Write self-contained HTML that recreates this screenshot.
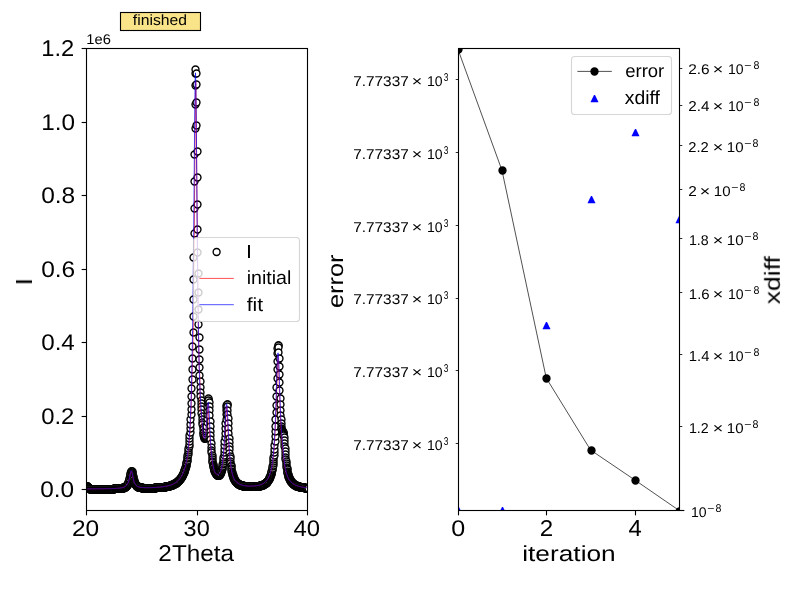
<!DOCTYPE html>
<html lang="en"><head><meta charset="utf-8"><title>fit progress</title>
<style>html,body{margin:0;padding:0;background:#fff;overflow:hidden}svg{display:block}text{font-family:"Liberation Sans",sans-serif;fill:#000;white-space:pre;text-rendering:geometricPrecision}</style></head><body>
<svg width="800" height="600" viewBox="0 0 800 600">
<rect width="800" height="600" fill="#fff"/>
<defs><clipPath id="cl"><rect x="87" y="49" width="220.5" height="461.5"/></clipPath><clipPath id="cr"><rect x="459" y="49" width="220.5" height="461.5"/></clipPath></defs>
<rect x="120.5" y="12.5" width="80" height="18" fill="#f9e48a" stroke="#000" stroke-width="1.11"/>
<g clip-path="url(#cl)">
<g fill="#fff" stroke="#000" stroke-width="1.39">
<circle cx="87.5" cy="486.5" r="3.47"/><circle cx="87.5" cy="486.5" r="3.47"/><circle cx="87.5" cy="486.5" r="3.47"/><circle cx="87.5" cy="486.5" r="3.47"/><circle cx="87.5" cy="486.5" r="3.47"/><circle cx="88.5" cy="487.5" r="3.47"/><circle cx="88.5" cy="487.5" r="3.47"/><circle cx="88.5" cy="487.5" r="3.47"/><circle cx="88.5" cy="487.5" r="3.47"/><circle cx="88.5" cy="488.5" r="3.47"/><circle cx="89.5" cy="488.5" r="3.47"/><circle cx="89.5" cy="488.5" r="3.47"/><circle cx="89.5" cy="488.5" r="3.47"/><circle cx="89.5" cy="488.5" r="3.47"/><circle cx="90.5" cy="489.5" r="3.47"/><circle cx="90.5" cy="489.5" r="3.47"/><circle cx="90.5" cy="489.5" r="3.47"/><circle cx="90.5" cy="489.5" r="3.47"/><circle cx="90.5" cy="489.5" r="3.47"/><circle cx="91.5" cy="489.5" r="3.47"/><circle cx="91.5" cy="489.5" r="3.47"/><circle cx="91.5" cy="489.5" r="3.47"/><circle cx="91.5" cy="489.5" r="3.47"/><circle cx="92.5" cy="489.5" r="3.47"/><circle cx="92.5" cy="489.5" r="3.47"/><circle cx="92.5" cy="489.5" r="3.47"/><circle cx="92.5" cy="489.5" r="3.47"/><circle cx="92.5" cy="489.5" r="3.47"/><circle cx="93.5" cy="489.5" r="3.47"/><circle cx="93.5" cy="489.5" r="3.47"/><circle cx="93.5" cy="489.5" r="3.47"/><circle cx="93.5" cy="489.5" r="3.47"/><circle cx="94.5" cy="489.5" r="3.47"/><circle cx="94.5" cy="489.5" r="3.47"/><circle cx="94.5" cy="489.5" r="3.47"/><circle cx="94.5" cy="489.5" r="3.47"/><circle cx="94.5" cy="489.5" r="3.47"/><circle cx="95.5" cy="489.5" r="3.47"/><circle cx="95.5" cy="489.5" r="3.47"/><circle cx="95.5" cy="489.5" r="3.47"/><circle cx="95.5" cy="489.5" r="3.47"/><circle cx="96.5" cy="489.5" r="3.47"/><circle cx="96.5" cy="489.5" r="3.47"/><circle cx="96.5" cy="489.5" r="3.47"/><circle cx="96.5" cy="489.5" r="3.47"/><circle cx="96.5" cy="489.5" r="3.47"/><circle cx="97.5" cy="489.5" r="3.47"/><circle cx="97.5" cy="489.5" r="3.47"/><circle cx="97.5" cy="489.5" r="3.47"/><circle cx="97.5" cy="489.5" r="3.47"/><circle cx="98.5" cy="489.5" r="3.47"/><circle cx="98.5" cy="489.5" r="3.47"/><circle cx="98.5" cy="489.5" r="3.47"/><circle cx="98.5" cy="489.5" r="3.47"/><circle cx="98.5" cy="489.5" r="3.47"/><circle cx="99.5" cy="489.5" r="3.47"/><circle cx="99.5" cy="489.5" r="3.47"/><circle cx="99.5" cy="489.5" r="3.47"/><circle cx="99.5" cy="489.5" r="3.47"/><circle cx="100.5" cy="489.5" r="3.47"/><circle cx="100.5" cy="489.5" r="3.47"/><circle cx="100.5" cy="489.5" r="3.47"/><circle cx="100.5" cy="489.5" r="3.47"/><circle cx="100.5" cy="489.5" r="3.47"/><circle cx="101.5" cy="489.5" r="3.47"/><circle cx="101.5" cy="489.5" r="3.47"/><circle cx="101.5" cy="489.5" r="3.47"/><circle cx="101.5" cy="489.5" r="3.47"/><circle cx="102.5" cy="489.5" r="3.47"/><circle cx="102.5" cy="489.5" r="3.47"/><circle cx="102.5" cy="489.5" r="3.47"/><circle cx="102.5" cy="489.5" r="3.47"/><circle cx="102.5" cy="489.5" r="3.47"/><circle cx="103.5" cy="489.5" r="3.47"/><circle cx="103.5" cy="489.5" r="3.47"/><circle cx="103.5" cy="489.5" r="3.47"/><circle cx="103.5" cy="489.5" r="3.47"/><circle cx="104.5" cy="489.5" r="3.47"/><circle cx="104.5" cy="489.5" r="3.47"/><circle cx="104.5" cy="489.5" r="3.47"/><circle cx="104.5" cy="489.5" r="3.47"/><circle cx="104.5" cy="489.5" r="3.47"/><circle cx="105.5" cy="489.5" r="3.47"/><circle cx="105.5" cy="489.5" r="3.47"/><circle cx="105.5" cy="489.5" r="3.47"/><circle cx="105.5" cy="489.5" r="3.47"/><circle cx="106.5" cy="489.5" r="3.47"/><circle cx="106.5" cy="489.5" r="3.47"/><circle cx="106.5" cy="489.5" r="3.47"/><circle cx="106.5" cy="489.5" r="3.47"/><circle cx="106.5" cy="489.5" r="3.47"/><circle cx="107.5" cy="489.5" r="3.47"/><circle cx="107.5" cy="489.5" r="3.47"/><circle cx="107.5" cy="489.5" r="3.47"/><circle cx="107.5" cy="489.5" r="3.47"/><circle cx="107.5" cy="489.5" r="3.47"/><circle cx="108.5" cy="489.5" r="3.47"/><circle cx="108.5" cy="489.5" r="3.47"/><circle cx="108.5" cy="489.5" r="3.47"/><circle cx="108.5" cy="489.5" r="3.47"/><circle cx="109.5" cy="489.5" r="3.47"/><circle cx="109.5" cy="489.5" r="3.47"/><circle cx="109.5" cy="489.5" r="3.47"/><circle cx="109.5" cy="489.5" r="3.47"/><circle cx="109.5" cy="489.5" r="3.47"/><circle cx="110.5" cy="489.5" r="3.47"/><circle cx="110.5" cy="489.5" r="3.47"/><circle cx="110.5" cy="489.5" r="3.47"/><circle cx="110.5" cy="489.5" r="3.47"/><circle cx="111.5" cy="489.5" r="3.47"/><circle cx="111.5" cy="489.5" r="3.47"/><circle cx="111.5" cy="489.5" r="3.47"/><circle cx="111.5" cy="489.5" r="3.47"/><circle cx="111.5" cy="489.5" r="3.47"/><circle cx="112.5" cy="489.5" r="3.47"/><circle cx="112.5" cy="489.5" r="3.47"/><circle cx="112.5" cy="489.5" r="3.47"/><circle cx="112.5" cy="489.5" r="3.47"/><circle cx="113.5" cy="489.5" r="3.47"/><circle cx="113.5" cy="489.5" r="3.47"/><circle cx="113.5" cy="489.5" r="3.47"/><circle cx="113.5" cy="489.5" r="3.47"/><circle cx="113.5" cy="489.5" r="3.47"/><circle cx="114.5" cy="488.5" r="3.47"/><circle cx="114.5" cy="488.5" r="3.47"/><circle cx="114.5" cy="488.5" r="3.47"/><circle cx="114.5" cy="488.5" r="3.47"/><circle cx="115.5" cy="488.5" r="3.47"/><circle cx="115.5" cy="488.5" r="3.47"/><circle cx="115.5" cy="488.5" r="3.47"/><circle cx="115.5" cy="488.5" r="3.47"/><circle cx="115.5" cy="488.5" r="3.47"/><circle cx="116.5" cy="488.5" r="3.47"/><circle cx="116.5" cy="488.5" r="3.47"/><circle cx="116.5" cy="488.5" r="3.47"/><circle cx="116.5" cy="488.5" r="3.47"/><circle cx="117.5" cy="488.5" r="3.47"/><circle cx="117.5" cy="488.5" r="3.47"/><circle cx="117.5" cy="488.5" r="3.47"/><circle cx="117.5" cy="488.5" r="3.47"/><circle cx="117.5" cy="488.5" r="3.47"/><circle cx="118.5" cy="488.5" r="3.47"/><circle cx="118.5" cy="488.5" r="3.47"/><circle cx="118.5" cy="488.5" r="3.47"/><circle cx="118.5" cy="488.5" r="3.47"/><circle cx="119.5" cy="488.5" r="3.47"/><circle cx="119.5" cy="488.5" r="3.47"/><circle cx="119.5" cy="488.5" r="3.47"/><circle cx="119.5" cy="488.5" r="3.47"/><circle cx="119.5" cy="488.5" r="3.47"/><circle cx="120.5" cy="488.5" r="3.47"/><circle cx="120.5" cy="488.5" r="3.47"/><circle cx="120.5" cy="488.5" r="3.47"/><circle cx="120.5" cy="488.5" r="3.47"/><circle cx="121.5" cy="488.5" r="3.47"/><circle cx="121.5" cy="488.5" r="3.47"/><circle cx="121.5" cy="488.5" r="3.47"/><circle cx="121.5" cy="488.5" r="3.47"/><circle cx="121.5" cy="488.5" r="3.47"/><circle cx="122.5" cy="488.5" r="3.47"/><circle cx="122.5" cy="488.5" r="3.47"/><circle cx="122.5" cy="488.5" r="3.47"/><circle cx="122.5" cy="488.5" r="3.47"/><circle cx="123.5" cy="488.5" r="3.47"/><circle cx="123.5" cy="488.5" r="3.47"/><circle cx="123.5" cy="487.5" r="3.47"/><circle cx="123.5" cy="487.5" r="3.47"/><circle cx="123.5" cy="487.5" r="3.47"/><circle cx="124.5" cy="487.5" r="3.47"/><circle cx="124.5" cy="487.5" r="3.47"/><circle cx="124.5" cy="487.5" r="3.47"/><circle cx="124.5" cy="487.5" r="3.47"/><circle cx="125.5" cy="487.5" r="3.47"/><circle cx="125.5" cy="487.5" r="3.47"/><circle cx="125.5" cy="487.5" r="3.47"/><circle cx="125.5" cy="487.5" r="3.47"/><circle cx="125.5" cy="486.5" r="3.47"/><circle cx="126.5" cy="486.5" r="3.47"/><circle cx="126.5" cy="486.5" r="3.47"/><circle cx="126.5" cy="486.5" r="3.47"/><circle cx="126.5" cy="486.5" r="3.47"/><circle cx="127.5" cy="485.5" r="3.47"/><circle cx="127.5" cy="485.5" r="3.47"/><circle cx="127.5" cy="485.5" r="3.47"/><circle cx="127.5" cy="485.5" r="3.47"/><circle cx="127.5" cy="484.5" r="3.47"/><circle cx="128.5" cy="484.5" r="3.47"/><circle cx="128.5" cy="483.5" r="3.47"/><circle cx="128.5" cy="483.5" r="3.47"/><circle cx="128.5" cy="482.5" r="3.47"/><circle cx="128.5" cy="482.5" r="3.47"/><circle cx="129.5" cy="481.5" r="3.47"/><circle cx="129.5" cy="480.5" r="3.47"/><circle cx="129.5" cy="479.5" r="3.47"/><circle cx="129.5" cy="478.5" r="3.47"/><circle cx="130.5" cy="477.5" r="3.47"/><circle cx="130.5" cy="476.5" r="3.47"/><circle cx="130.5" cy="475.5" r="3.47"/><circle cx="130.5" cy="474.5" r="3.47"/><circle cx="130.5" cy="473.5" r="3.47"/><circle cx="131.5" cy="472.5" r="3.47"/><circle cx="131.5" cy="471.5" r="3.47"/><circle cx="131.5" cy="471.5" r="3.47"/><circle cx="131.5" cy="471.5" r="3.47"/><circle cx="132.5" cy="471.5" r="3.47"/><circle cx="132.5" cy="472.5" r="3.47"/><circle cx="132.5" cy="473.5" r="3.47"/><circle cx="132.5" cy="474.5" r="3.47"/><circle cx="132.5" cy="475.5" r="3.47"/><circle cx="133.5" cy="476.5" r="3.47"/><circle cx="133.5" cy="477.5" r="3.47"/><circle cx="133.5" cy="478.5" r="3.47"/><circle cx="133.5" cy="479.5" r="3.47"/><circle cx="134.5" cy="480.5" r="3.47"/><circle cx="134.5" cy="481.5" r="3.47"/><circle cx="134.5" cy="482.5" r="3.47"/><circle cx="134.5" cy="482.5" r="3.47"/><circle cx="134.5" cy="483.5" r="3.47"/><circle cx="135.5" cy="483.5" r="3.47"/><circle cx="135.5" cy="484.5" r="3.47"/><circle cx="135.5" cy="484.5" r="3.47"/><circle cx="135.5" cy="484.5" r="3.47"/><circle cx="136.5" cy="485.5" r="3.47"/><circle cx="136.5" cy="485.5" r="3.47"/><circle cx="136.5" cy="485.5" r="3.47"/><circle cx="136.5" cy="485.5" r="3.47"/><circle cx="136.5" cy="486.5" r="3.47"/><circle cx="137.5" cy="486.5" r="3.47"/><circle cx="137.5" cy="486.5" r="3.47"/><circle cx="137.5" cy="486.5" r="3.47"/><circle cx="137.5" cy="486.5" r="3.47"/><circle cx="138.5" cy="486.5" r="3.47"/><circle cx="138.5" cy="487.5" r="3.47"/><circle cx="138.5" cy="487.5" r="3.47"/><circle cx="138.5" cy="487.5" r="3.47"/><circle cx="138.5" cy="487.5" r="3.47"/><circle cx="139.5" cy="487.5" r="3.47"/><circle cx="139.5" cy="487.5" r="3.47"/><circle cx="139.5" cy="487.5" r="3.47"/><circle cx="139.5" cy="487.5" r="3.47"/><circle cx="140.5" cy="487.5" r="3.47"/><circle cx="140.5" cy="487.5" r="3.47"/><circle cx="140.5" cy="487.5" r="3.47"/><circle cx="140.5" cy="487.5" r="3.47"/><circle cx="140.5" cy="487.5" r="3.47"/><circle cx="141.5" cy="487.5" r="3.47"/><circle cx="141.5" cy="487.5" r="3.47"/><circle cx="141.5" cy="487.5" r="3.47"/><circle cx="141.5" cy="487.5" r="3.47"/><circle cx="142.5" cy="487.5" r="3.47"/><circle cx="142.5" cy="488.5" r="3.47"/><circle cx="142.5" cy="488.5" r="3.47"/><circle cx="142.5" cy="488.5" r="3.47"/><circle cx="142.5" cy="488.5" r="3.47"/><circle cx="143.5" cy="488.5" r="3.47"/><circle cx="143.5" cy="488.5" r="3.47"/><circle cx="143.5" cy="488.5" r="3.47"/><circle cx="143.5" cy="488.5" r="3.47"/><circle cx="144.5" cy="488.5" r="3.47"/><circle cx="144.5" cy="488.5" r="3.47"/><circle cx="144.5" cy="488.5" r="3.47"/><circle cx="144.5" cy="488.5" r="3.47"/><circle cx="144.5" cy="488.5" r="3.47"/><circle cx="145.5" cy="488.5" r="3.47"/><circle cx="145.5" cy="488.5" r="3.47"/><circle cx="145.5" cy="488.5" r="3.47"/><circle cx="145.5" cy="488.5" r="3.47"/><circle cx="146.5" cy="488.5" r="3.47"/><circle cx="146.5" cy="488.5" r="3.47"/><circle cx="146.5" cy="488.5" r="3.47"/><circle cx="146.5" cy="488.5" r="3.47"/><circle cx="146.5" cy="488.5" r="3.47"/><circle cx="147.5" cy="488.5" r="3.47"/><circle cx="147.5" cy="488.5" r="3.47"/><circle cx="147.5" cy="488.5" r="3.47"/><circle cx="147.5" cy="488.5" r="3.47"/><circle cx="147.5" cy="488.5" r="3.47"/><circle cx="148.5" cy="488.5" r="3.47"/><circle cx="148.5" cy="488.5" r="3.47"/><circle cx="148.5" cy="488.5" r="3.47"/><circle cx="148.5" cy="488.5" r="3.47"/><circle cx="149.5" cy="488.5" r="3.47"/><circle cx="149.5" cy="488.5" r="3.47"/><circle cx="149.5" cy="488.5" r="3.47"/><circle cx="149.5" cy="488.5" r="3.47"/><circle cx="149.5" cy="488.5" r="3.47"/><circle cx="150.5" cy="488.5" r="3.47"/><circle cx="150.5" cy="488.5" r="3.47"/><circle cx="150.5" cy="488.5" r="3.47"/><circle cx="150.5" cy="488.5" r="3.47"/><circle cx="151.5" cy="488.5" r="3.47"/><circle cx="151.5" cy="488.5" r="3.47"/><circle cx="151.5" cy="488.5" r="3.47"/><circle cx="151.5" cy="488.5" r="3.47"/><circle cx="151.5" cy="488.5" r="3.47"/><circle cx="152.5" cy="488.5" r="3.47"/><circle cx="152.5" cy="488.5" r="3.47"/><circle cx="152.5" cy="488.5" r="3.47"/><circle cx="152.5" cy="488.5" r="3.47"/><circle cx="153.5" cy="488.5" r="3.47"/><circle cx="153.5" cy="488.5" r="3.47"/><circle cx="153.5" cy="488.5" r="3.47"/><circle cx="153.5" cy="488.5" r="3.47"/><circle cx="153.5" cy="488.5" r="3.47"/><circle cx="154.5" cy="488.5" r="3.47"/><circle cx="154.5" cy="488.5" r="3.47"/><circle cx="154.5" cy="488.5" r="3.47"/><circle cx="154.5" cy="488.5" r="3.47"/><circle cx="155.5" cy="488.5" r="3.47"/><circle cx="155.5" cy="488.5" r="3.47"/><circle cx="155.5" cy="487.5" r="3.47"/><circle cx="155.5" cy="487.5" r="3.47"/><circle cx="155.5" cy="487.5" r="3.47"/><circle cx="156.5" cy="487.5" r="3.47"/><circle cx="156.5" cy="487.5" r="3.47"/><circle cx="156.5" cy="487.5" r="3.47"/><circle cx="156.5" cy="487.5" r="3.47"/><circle cx="157.5" cy="487.5" r="3.47"/><circle cx="157.5" cy="487.5" r="3.47"/><circle cx="157.5" cy="487.5" r="3.47"/><circle cx="157.5" cy="487.5" r="3.47"/><circle cx="157.5" cy="487.5" r="3.47"/><circle cx="158.5" cy="487.5" r="3.47"/><circle cx="158.5" cy="487.5" r="3.47"/><circle cx="158.5" cy="487.5" r="3.47"/><circle cx="158.5" cy="487.5" r="3.47"/><circle cx="159.5" cy="487.5" r="3.47"/><circle cx="159.5" cy="487.5" r="3.47"/><circle cx="159.5" cy="487.5" r="3.47"/><circle cx="159.5" cy="487.5" r="3.47"/><circle cx="159.5" cy="487.5" r="3.47"/><circle cx="160.5" cy="487.5" r="3.47"/><circle cx="160.5" cy="487.5" r="3.47"/><circle cx="160.5" cy="487.5" r="3.47"/><circle cx="160.5" cy="487.5" r="3.47"/><circle cx="161.5" cy="487.5" r="3.47"/><circle cx="161.5" cy="487.5" r="3.47"/><circle cx="161.5" cy="487.5" r="3.47"/><circle cx="161.5" cy="487.5" r="3.47"/><circle cx="161.5" cy="487.5" r="3.47"/><circle cx="162.5" cy="487.5" r="3.47"/><circle cx="162.5" cy="487.5" r="3.47"/><circle cx="162.5" cy="487.5" r="3.47"/><circle cx="162.5" cy="487.5" r="3.47"/><circle cx="163.5" cy="487.5" r="3.47"/><circle cx="163.5" cy="487.5" r="3.47"/><circle cx="163.5" cy="487.5" r="3.47"/><circle cx="163.5" cy="487.5" r="3.47"/><circle cx="163.5" cy="487.5" r="3.47"/><circle cx="164.5" cy="487.5" r="3.47"/><circle cx="164.5" cy="487.5" r="3.47"/><circle cx="164.5" cy="487.5" r="3.47"/><circle cx="164.5" cy="487.5" r="3.47"/><circle cx="165.5" cy="487.5" r="3.47"/><circle cx="165.5" cy="487.5" r="3.47"/><circle cx="165.5" cy="486.5" r="3.47"/><circle cx="165.5" cy="486.5" r="3.47"/><circle cx="165.5" cy="486.5" r="3.47"/><circle cx="166.5" cy="486.5" r="3.47"/><circle cx="166.5" cy="486.5" r="3.47"/><circle cx="166.5" cy="486.5" r="3.47"/><circle cx="166.5" cy="486.5" r="3.47"/><circle cx="167.5" cy="486.5" r="3.47"/><circle cx="167.5" cy="486.5" r="3.47"/><circle cx="167.5" cy="486.5" r="3.47"/><circle cx="167.5" cy="486.5" r="3.47"/><circle cx="167.5" cy="486.5" r="3.47"/><circle cx="168.5" cy="486.5" r="3.47"/><circle cx="168.5" cy="486.5" r="3.47"/><circle cx="168.5" cy="486.5" r="3.47"/><circle cx="168.5" cy="486.5" r="3.47"/><circle cx="168.5" cy="486.5" r="3.47"/><circle cx="169.5" cy="486.5" r="3.47"/><circle cx="169.5" cy="486.5" r="3.47"/><circle cx="169.5" cy="486.5" r="3.47"/><circle cx="169.5" cy="486.5" r="3.47"/><circle cx="170.5" cy="485.5" r="3.47"/><circle cx="170.5" cy="485.5" r="3.47"/><circle cx="170.5" cy="485.5" r="3.47"/><circle cx="170.5" cy="485.5" r="3.47"/><circle cx="170.5" cy="485.5" r="3.47"/><circle cx="171.5" cy="485.5" r="3.47"/><circle cx="171.5" cy="485.5" r="3.47"/><circle cx="171.5" cy="485.5" r="3.47"/><circle cx="171.5" cy="485.5" r="3.47"/><circle cx="172.5" cy="485.5" r="3.47"/><circle cx="172.5" cy="485.5" r="3.47"/><circle cx="172.5" cy="485.5" r="3.47"/><circle cx="172.5" cy="485.5" r="3.47"/><circle cx="172.5" cy="484.5" r="3.47"/><circle cx="173.5" cy="484.5" r="3.47"/><circle cx="173.5" cy="484.5" r="3.47"/><circle cx="173.5" cy="484.5" r="3.47"/><circle cx="173.5" cy="484.5" r="3.47"/><circle cx="174.5" cy="484.5" r="3.47"/><circle cx="174.5" cy="484.5" r="3.47"/><circle cx="174.5" cy="484.5" r="3.47"/><circle cx="174.5" cy="484.5" r="3.47"/><circle cx="174.5" cy="483.5" r="3.47"/><circle cx="175.5" cy="483.5" r="3.47"/><circle cx="175.5" cy="483.5" r="3.47"/><circle cx="175.5" cy="483.5" r="3.47"/><circle cx="175.5" cy="483.5" r="3.47"/><circle cx="176.5" cy="483.5" r="3.47"/><circle cx="176.5" cy="483.5" r="3.47"/><circle cx="176.5" cy="483.5" r="3.47"/><circle cx="176.5" cy="482.5" r="3.47"/><circle cx="176.5" cy="482.5" r="3.47"/><circle cx="177.5" cy="482.5" r="3.47"/><circle cx="177.5" cy="482.5" r="3.47"/><circle cx="177.5" cy="482.5" r="3.47"/><circle cx="177.5" cy="481.5" r="3.47"/><circle cx="178.5" cy="481.5" r="3.47"/><circle cx="178.5" cy="481.5" r="3.47"/><circle cx="178.5" cy="481.5" r="3.47"/><circle cx="178.5" cy="481.5" r="3.47"/><circle cx="178.5" cy="480.5" r="3.47"/><circle cx="179.5" cy="480.5" r="3.47"/><circle cx="179.5" cy="480.5" r="3.47"/><circle cx="179.5" cy="480.5" r="3.47"/><circle cx="179.5" cy="480.5" r="3.47"/><circle cx="180.5" cy="479.5" r="3.47"/><circle cx="180.5" cy="479.5" r="3.47"/><circle cx="180.5" cy="479.5" r="3.47"/><circle cx="180.5" cy="478.5" r="3.47"/><circle cx="180.5" cy="478.5" r="3.47"/><circle cx="181.5" cy="478.5" r="3.47"/><circle cx="181.5" cy="477.5" r="3.47"/><circle cx="181.5" cy="477.5" r="3.47"/><circle cx="181.5" cy="477.5" r="3.47"/><circle cx="182.5" cy="476.5" r="3.47"/><circle cx="182.5" cy="476.5" r="3.47"/><circle cx="182.5" cy="476.5" r="3.47"/><circle cx="182.5" cy="475.5" r="3.47"/><circle cx="182.5" cy="475.5" r="3.47"/><circle cx="183.5" cy="474.5" r="3.47"/><circle cx="183.5" cy="474.5" r="3.47"/><circle cx="183.5" cy="473.5" r="3.47"/><circle cx="183.5" cy="473.5" r="3.47"/><circle cx="184.5" cy="472.5" r="3.47"/><circle cx="184.5" cy="472.5" r="3.47"/><circle cx="184.5" cy="471.5" r="3.47"/><circle cx="184.5" cy="470.5" r="3.47"/><circle cx="184.5" cy="470.5" r="3.47"/><circle cx="185.5" cy="469.5" r="3.47"/><circle cx="185.5" cy="468.5" r="3.47"/><circle cx="185.5" cy="468.5" r="3.47"/><circle cx="185.5" cy="467.5" r="3.47"/><circle cx="186.5" cy="466.5" r="3.47"/><circle cx="186.5" cy="465.5" r="3.47"/><circle cx="186.5" cy="464.5" r="3.47"/><circle cx="186.5" cy="463.5" r="3.47"/><circle cx="186.5" cy="462.5" r="3.47"/><circle cx="187.5" cy="461.5" r="3.47"/><circle cx="187.5" cy="460.5" r="3.47"/><circle cx="187.5" cy="458.5" r="3.47"/><circle cx="187.5" cy="457.5" r="3.47"/><circle cx="187.5" cy="455.5" r="3.47"/><circle cx="188.5" cy="454.5" r="3.47"/><circle cx="188.5" cy="452.5" r="3.47"/><circle cx="188.5" cy="450.5" r="3.47"/><circle cx="188.5" cy="448.5" r="3.47"/><circle cx="189.5" cy="446.5" r="3.47"/><circle cx="189.5" cy="444.5" r="3.47"/><circle cx="189.5" cy="441.5" r="3.47"/><circle cx="189.5" cy="438.5" r="3.47"/><circle cx="189.5" cy="435.5" r="3.47"/><circle cx="190.5" cy="432.5" r="3.47"/><circle cx="190.5" cy="428.5" r="3.47"/><circle cx="190.5" cy="424.5" r="3.47"/><circle cx="190.5" cy="419.5" r="3.47"/><circle cx="191.5" cy="414.5" r="3.47"/><circle cx="191.5" cy="409.5" r="3.47"/><circle cx="191.5" cy="403.5" r="3.47"/><circle cx="191.5" cy="396.5" r="3.47"/><circle cx="191.5" cy="388.5" r="3.47"/><circle cx="192.5" cy="379.5" r="3.47"/><circle cx="192.5" cy="369.5" r="3.47"/><circle cx="192.5" cy="358.5" r="3.47"/><circle cx="192.5" cy="346.5" r="3.47"/><circle cx="193.5" cy="332.5" r="3.47"/><circle cx="193.5" cy="316.5" r="3.47"/><circle cx="193.5" cy="299.5" r="3.47"/><circle cx="193.5" cy="279.5" r="3.47"/><circle cx="193.5" cy="257.5" r="3.47"/><circle cx="194.5" cy="233.5" r="3.47"/><circle cx="194.5" cy="208.5" r="3.47"/><circle cx="194.5" cy="181.5" r="3.47"/><circle cx="194.5" cy="154.5" r="3.47"/><circle cx="195.5" cy="128.5" r="3.47"/><circle cx="195.5" cy="104.5" r="3.47"/><circle cx="195.5" cy="85.5" r="3.47"/><circle cx="195.5" cy="73.5" r="3.47"/><circle cx="195.5" cy="69.5" r="3.47"/><circle cx="196.5" cy="73.5" r="3.47"/><circle cx="196.5" cy="84.5" r="3.47"/><circle cx="196.5" cy="102.5" r="3.47"/><circle cx="196.5" cy="125.5" r="3.47"/><circle cx="197.5" cy="151.5" r="3.47"/><circle cx="197.5" cy="177.5" r="3.47"/><circle cx="197.5" cy="204.5" r="3.47"/><circle cx="197.5" cy="229.5" r="3.47"/><circle cx="197.5" cy="252.5" r="3.47"/><circle cx="198.5" cy="273.5" r="3.47"/><circle cx="198.5" cy="292.5" r="3.47"/><circle cx="198.5" cy="309.5" r="3.47"/><circle cx="198.5" cy="324.5" r="3.47"/><circle cx="199.5" cy="337.5" r="3.47"/><circle cx="199.5" cy="349.5" r="3.47"/><circle cx="199.5" cy="359.5" r="3.47"/><circle cx="199.5" cy="367.5" r="3.47"/><circle cx="199.5" cy="375.5" r="3.47"/><circle cx="200.5" cy="381.5" r="3.47"/><circle cx="200.5" cy="387.5" r="3.47"/><circle cx="200.5" cy="392.5" r="3.47"/><circle cx="200.5" cy="396.5" r="3.47"/><circle cx="201.5" cy="400.5" r="3.47"/><circle cx="201.5" cy="403.5" r="3.47"/><circle cx="201.5" cy="406.5" r="3.47"/><circle cx="201.5" cy="409.5" r="3.47"/><circle cx="201.5" cy="413.5" r="3.47"/><circle cx="202.5" cy="416.5" r="3.47"/><circle cx="202.5" cy="419.5" r="3.47"/><circle cx="202.5" cy="422.5" r="3.47"/><circle cx="202.5" cy="424.5" r="3.47"/><circle cx="203.5" cy="427.5" r="3.47"/><circle cx="203.5" cy="429.5" r="3.47"/><circle cx="203.5" cy="432.5" r="3.47"/><circle cx="203.5" cy="433.5" r="3.47"/><circle cx="203.5" cy="435.5" r="3.47"/><circle cx="204.5" cy="436.5" r="3.47"/><circle cx="204.5" cy="437.5" r="3.47"/><circle cx="204.5" cy="438.5" r="3.47"/><circle cx="204.5" cy="438.5" r="3.47"/><circle cx="205.5" cy="438.5" r="3.47"/><circle cx="205.5" cy="438.5" r="3.47"/><circle cx="205.5" cy="437.5" r="3.47"/><circle cx="205.5" cy="436.5" r="3.47"/><circle cx="205.5" cy="435.5" r="3.47"/><circle cx="206.5" cy="433.5" r="3.47"/><circle cx="206.5" cy="431.5" r="3.47"/><circle cx="206.5" cy="429.5" r="3.47"/><circle cx="206.5" cy="426.5" r="3.47"/><circle cx="207.5" cy="422.5" r="3.47"/><circle cx="207.5" cy="418.5" r="3.47"/><circle cx="207.5" cy="414.5" r="3.47"/><circle cx="207.5" cy="410.5" r="3.47"/><circle cx="207.5" cy="406.5" r="3.47"/><circle cx="208.5" cy="403.5" r="3.47"/><circle cx="208.5" cy="400.5" r="3.47"/><circle cx="208.5" cy="399.5" r="3.47"/><circle cx="208.5" cy="398.5" r="3.47"/><circle cx="208.5" cy="400.5" r="3.47"/><circle cx="209.5" cy="402.5" r="3.47"/><circle cx="209.5" cy="406.5" r="3.47"/><circle cx="209.5" cy="410.5" r="3.47"/><circle cx="209.5" cy="415.5" r="3.47"/><circle cx="210.5" cy="421.5" r="3.47"/><circle cx="210.5" cy="426.5" r="3.47"/><circle cx="210.5" cy="431.5" r="3.47"/><circle cx="210.5" cy="435.5" r="3.47"/><circle cx="210.5" cy="439.5" r="3.47"/><circle cx="211.5" cy="443.5" r="3.47"/><circle cx="211.5" cy="447.5" r="3.47"/><circle cx="211.5" cy="450.5" r="3.47"/><circle cx="211.5" cy="452.5" r="3.47"/><circle cx="212.5" cy="455.5" r="3.47"/><circle cx="212.5" cy="457.5" r="3.47"/><circle cx="212.5" cy="459.5" r="3.47"/><circle cx="212.5" cy="461.5" r="3.47"/><circle cx="212.5" cy="462.5" r="3.47"/><circle cx="213.5" cy="464.5" r="3.47"/><circle cx="213.5" cy="465.5" r="3.47"/><circle cx="213.5" cy="466.5" r="3.47"/><circle cx="213.5" cy="467.5" r="3.47"/><circle cx="214.5" cy="468.5" r="3.47"/><circle cx="214.5" cy="469.5" r="3.47"/><circle cx="214.5" cy="470.5" r="3.47"/><circle cx="214.5" cy="470.5" r="3.47"/><circle cx="214.5" cy="471.5" r="3.47"/><circle cx="215.5" cy="472.5" r="3.47"/><circle cx="215.5" cy="472.5" r="3.47"/><circle cx="215.5" cy="472.5" r="3.47"/><circle cx="215.5" cy="473.5" r="3.47"/><circle cx="216.5" cy="473.5" r="3.47"/><circle cx="216.5" cy="474.5" r="3.47"/><circle cx="216.5" cy="474.5" r="3.47"/><circle cx="216.5" cy="474.5" r="3.47"/><circle cx="216.5" cy="474.5" r="3.47"/><circle cx="217.5" cy="475.5" r="3.47"/><circle cx="217.5" cy="475.5" r="3.47"/><circle cx="217.5" cy="475.5" r="3.47"/><circle cx="217.5" cy="475.5" r="3.47"/><circle cx="218.5" cy="475.5" r="3.47"/><circle cx="218.5" cy="475.5" r="3.47"/><circle cx="218.5" cy="475.5" r="3.47"/><circle cx="218.5" cy="475.5" r="3.47"/><circle cx="218.5" cy="475.5" r="3.47"/><circle cx="219.5" cy="475.5" r="3.47"/><circle cx="219.5" cy="475.5" r="3.47"/><circle cx="219.5" cy="475.5" r="3.47"/><circle cx="219.5" cy="474.5" r="3.47"/><circle cx="220.5" cy="474.5" r="3.47"/><circle cx="220.5" cy="474.5" r="3.47"/><circle cx="220.5" cy="473.5" r="3.47"/><circle cx="220.5" cy="473.5" r="3.47"/><circle cx="220.5" cy="473.5" r="3.47"/><circle cx="221.5" cy="472.5" r="3.47"/><circle cx="221.5" cy="471.5" r="3.47"/><circle cx="221.5" cy="471.5" r="3.47"/><circle cx="221.5" cy="470.5" r="3.47"/><circle cx="222.5" cy="469.5" r="3.47"/><circle cx="222.5" cy="468.5" r="3.47"/><circle cx="222.5" cy="467.5" r="3.47"/><circle cx="222.5" cy="466.5" r="3.47"/><circle cx="222.5" cy="464.5" r="3.47"/><circle cx="223.5" cy="463.5" r="3.47"/><circle cx="223.5" cy="461.5" r="3.47"/><circle cx="223.5" cy="459.5" r="3.47"/><circle cx="223.5" cy="457.5" r="3.47"/><circle cx="224.5" cy="455.5" r="3.47"/><circle cx="224.5" cy="452.5" r="3.47"/><circle cx="224.5" cy="449.5" r="3.47"/><circle cx="224.5" cy="445.5" r="3.47"/><circle cx="224.5" cy="441.5" r="3.47"/><circle cx="225.5" cy="437.5" r="3.47"/><circle cx="225.5" cy="433.5" r="3.47"/><circle cx="225.5" cy="428.5" r="3.47"/><circle cx="225.5" cy="423.5" r="3.47"/><circle cx="226.5" cy="419.5" r="3.47"/><circle cx="226.5" cy="414.5" r="3.47"/><circle cx="226.5" cy="410.5" r="3.47"/><circle cx="226.5" cy="407.5" r="3.47"/><circle cx="226.5" cy="405.5" r="3.47"/><circle cx="227.5" cy="404.5" r="3.47"/><circle cx="227.5" cy="404.5" r="3.47"/><circle cx="227.5" cy="406.5" r="3.47"/><circle cx="227.5" cy="410.5" r="3.47"/><circle cx="227.5" cy="414.5" r="3.47"/><circle cx="228.5" cy="418.5" r="3.47"/><circle cx="228.5" cy="423.5" r="3.47"/><circle cx="228.5" cy="428.5" r="3.47"/><circle cx="228.5" cy="433.5" r="3.47"/><circle cx="229.5" cy="438.5" r="3.47"/><circle cx="229.5" cy="442.5" r="3.47"/><circle cx="229.5" cy="446.5" r="3.47"/><circle cx="229.5" cy="449.5" r="3.47"/><circle cx="229.5" cy="453.5" r="3.47"/><circle cx="230.5" cy="456.5" r="3.47"/><circle cx="230.5" cy="458.5" r="3.47"/><circle cx="230.5" cy="461.5" r="3.47"/><circle cx="230.5" cy="463.5" r="3.47"/><circle cx="231.5" cy="465.5" r="3.47"/><circle cx="231.5" cy="466.5" r="3.47"/><circle cx="231.5" cy="468.5" r="3.47"/><circle cx="231.5" cy="469.5" r="3.47"/><circle cx="231.5" cy="471.5" r="3.47"/><circle cx="232.5" cy="472.5" r="3.47"/><circle cx="232.5" cy="473.5" r="3.47"/><circle cx="232.5" cy="474.5" r="3.47"/><circle cx="232.5" cy="475.5" r="3.47"/><circle cx="233.5" cy="475.5" r="3.47"/><circle cx="233.5" cy="476.5" r="3.47"/><circle cx="233.5" cy="477.5" r="3.47"/><circle cx="233.5" cy="477.5" r="3.47"/><circle cx="233.5" cy="478.5" r="3.47"/><circle cx="234.5" cy="478.5" r="3.47"/><circle cx="234.5" cy="479.5" r="3.47"/><circle cx="234.5" cy="479.5" r="3.47"/><circle cx="234.5" cy="480.5" r="3.47"/><circle cx="235.5" cy="480.5" r="3.47"/><circle cx="235.5" cy="480.5" r="3.47"/><circle cx="235.5" cy="481.5" r="3.47"/><circle cx="235.5" cy="481.5" r="3.47"/><circle cx="235.5" cy="481.5" r="3.47"/><circle cx="236.5" cy="482.5" r="3.47"/><circle cx="236.5" cy="482.5" r="3.47"/><circle cx="236.5" cy="482.5" r="3.47"/><circle cx="236.5" cy="482.5" r="3.47"/><circle cx="237.5" cy="483.5" r="3.47"/><circle cx="237.5" cy="483.5" r="3.47"/><circle cx="237.5" cy="483.5" r="3.47"/><circle cx="237.5" cy="483.5" r="3.47"/><circle cx="237.5" cy="483.5" r="3.47"/><circle cx="238.5" cy="483.5" r="3.47"/><circle cx="238.5" cy="484.5" r="3.47"/><circle cx="238.5" cy="484.5" r="3.47"/><circle cx="238.5" cy="484.5" r="3.47"/><circle cx="239.5" cy="484.5" r="3.47"/><circle cx="239.5" cy="484.5" r="3.47"/><circle cx="239.5" cy="484.5" r="3.47"/><circle cx="239.5" cy="484.5" r="3.47"/><circle cx="239.5" cy="484.5" r="3.47"/><circle cx="240.5" cy="485.5" r="3.47"/><circle cx="240.5" cy="485.5" r="3.47"/><circle cx="240.5" cy="485.5" r="3.47"/><circle cx="240.5" cy="485.5" r="3.47"/><circle cx="241.5" cy="485.5" r="3.47"/><circle cx="241.5" cy="485.5" r="3.47"/><circle cx="241.5" cy="485.5" r="3.47"/><circle cx="241.5" cy="485.5" r="3.47"/><circle cx="241.5" cy="485.5" r="3.47"/><circle cx="242.5" cy="485.5" r="3.47"/><circle cx="242.5" cy="485.5" r="3.47"/><circle cx="242.5" cy="485.5" r="3.47"/><circle cx="242.5" cy="485.5" r="3.47"/><circle cx="243.5" cy="485.5" r="3.47"/><circle cx="243.5" cy="486.5" r="3.47"/><circle cx="243.5" cy="486.5" r="3.47"/><circle cx="243.5" cy="486.5" r="3.47"/><circle cx="243.5" cy="486.5" r="3.47"/><circle cx="244.5" cy="486.5" r="3.47"/><circle cx="244.5" cy="486.5" r="3.47"/><circle cx="244.5" cy="486.5" r="3.47"/><circle cx="244.5" cy="486.5" r="3.47"/><circle cx="245.5" cy="486.5" r="3.47"/><circle cx="245.5" cy="486.5" r="3.47"/><circle cx="245.5" cy="486.5" r="3.47"/><circle cx="245.5" cy="486.5" r="3.47"/><circle cx="245.5" cy="486.5" r="3.47"/><circle cx="246.5" cy="486.5" r="3.47"/><circle cx="246.5" cy="486.5" r="3.47"/><circle cx="246.5" cy="486.5" r="3.47"/><circle cx="246.5" cy="486.5" r="3.47"/><circle cx="247.5" cy="486.5" r="3.47"/><circle cx="247.5" cy="486.5" r="3.47"/><circle cx="247.5" cy="486.5" r="3.47"/><circle cx="247.5" cy="486.5" r="3.47"/><circle cx="247.5" cy="486.5" r="3.47"/><circle cx="248.5" cy="486.5" r="3.47"/><circle cx="248.5" cy="486.5" r="3.47"/><circle cx="248.5" cy="486.5" r="3.47"/><circle cx="248.5" cy="486.5" r="3.47"/><circle cx="248.5" cy="486.5" r="3.47"/><circle cx="249.5" cy="486.5" r="3.47"/><circle cx="249.5" cy="486.5" r="3.47"/><circle cx="249.5" cy="486.5" r="3.47"/><circle cx="249.5" cy="486.5" r="3.47"/><circle cx="250.5" cy="486.5" r="3.47"/><circle cx="250.5" cy="486.5" r="3.47"/><circle cx="250.5" cy="486.5" r="3.47"/><circle cx="250.5" cy="486.5" r="3.47"/><circle cx="250.5" cy="486.5" r="3.47"/><circle cx="251.5" cy="486.5" r="3.47"/><circle cx="251.5" cy="486.5" r="3.47"/><circle cx="251.5" cy="486.5" r="3.47"/><circle cx="251.5" cy="486.5" r="3.47"/><circle cx="252.5" cy="486.5" r="3.47"/><circle cx="252.5" cy="486.5" r="3.47"/><circle cx="252.5" cy="486.5" r="3.47"/><circle cx="252.5" cy="486.5" r="3.47"/><circle cx="252.5" cy="486.5" r="3.47"/><circle cx="253.5" cy="486.5" r="3.47"/><circle cx="253.5" cy="486.5" r="3.47"/><circle cx="253.5" cy="486.5" r="3.47"/><circle cx="253.5" cy="486.5" r="3.47"/><circle cx="254.5" cy="486.5" r="3.47"/><circle cx="254.5" cy="486.5" r="3.47"/><circle cx="254.5" cy="486.5" r="3.47"/><circle cx="254.5" cy="486.5" r="3.47"/><circle cx="254.5" cy="486.5" r="3.47"/><circle cx="255.5" cy="486.5" r="3.47"/><circle cx="255.5" cy="486.5" r="3.47"/><circle cx="255.5" cy="486.5" r="3.47"/><circle cx="255.5" cy="486.5" r="3.47"/><circle cx="256.5" cy="486.5" r="3.47"/><circle cx="256.5" cy="486.5" r="3.47"/><circle cx="256.5" cy="486.5" r="3.47"/><circle cx="256.5" cy="486.5" r="3.47"/><circle cx="256.5" cy="486.5" r="3.47"/><circle cx="257.5" cy="486.5" r="3.47"/><circle cx="257.5" cy="486.5" r="3.47"/><circle cx="257.5" cy="486.5" r="3.47"/><circle cx="257.5" cy="486.5" r="3.47"/><circle cx="258.5" cy="486.5" r="3.47"/><circle cx="258.5" cy="486.5" r="3.47"/><circle cx="258.5" cy="486.5" r="3.47"/><circle cx="258.5" cy="486.5" r="3.47"/><circle cx="258.5" cy="486.5" r="3.47"/><circle cx="259.5" cy="486.5" r="3.47"/><circle cx="259.5" cy="486.5" r="3.47"/><circle cx="259.5" cy="486.5" r="3.47"/><circle cx="259.5" cy="486.5" r="3.47"/><circle cx="260.5" cy="486.5" r="3.47"/><circle cx="260.5" cy="485.5" r="3.47"/><circle cx="260.5" cy="485.5" r="3.47"/><circle cx="260.5" cy="485.5" r="3.47"/><circle cx="260.5" cy="485.5" r="3.47"/><circle cx="261.5" cy="485.5" r="3.47"/><circle cx="261.5" cy="485.5" r="3.47"/><circle cx="261.5" cy="485.5" r="3.47"/><circle cx="261.5" cy="485.5" r="3.47"/><circle cx="262.5" cy="485.5" r="3.47"/><circle cx="262.5" cy="485.5" r="3.47"/><circle cx="262.5" cy="485.5" r="3.47"/><circle cx="262.5" cy="485.5" r="3.47"/><circle cx="262.5" cy="485.5" r="3.47"/><circle cx="263.5" cy="485.5" r="3.47"/><circle cx="263.5" cy="484.5" r="3.47"/><circle cx="263.5" cy="484.5" r="3.47"/><circle cx="263.5" cy="484.5" r="3.47"/><circle cx="264.5" cy="484.5" r="3.47"/><circle cx="264.5" cy="484.5" r="3.47"/><circle cx="264.5" cy="484.5" r="3.47"/><circle cx="264.5" cy="484.5" r="3.47"/><circle cx="264.5" cy="484.5" r="3.47"/><circle cx="265.5" cy="483.5" r="3.47"/><circle cx="265.5" cy="483.5" r="3.47"/><circle cx="265.5" cy="483.5" r="3.47"/><circle cx="265.5" cy="483.5" r="3.47"/><circle cx="266.5" cy="483.5" r="3.47"/><circle cx="266.5" cy="483.5" r="3.47"/><circle cx="266.5" cy="482.5" r="3.47"/><circle cx="266.5" cy="482.5" r="3.47"/><circle cx="266.5" cy="482.5" r="3.47"/><circle cx="267.5" cy="482.5" r="3.47"/><circle cx="267.5" cy="482.5" r="3.47"/><circle cx="267.5" cy="481.5" r="3.47"/><circle cx="267.5" cy="481.5" r="3.47"/><circle cx="267.5" cy="481.5" r="3.47"/><circle cx="268.5" cy="480.5" r="3.47"/><circle cx="268.5" cy="480.5" r="3.47"/><circle cx="268.5" cy="480.5" r="3.47"/><circle cx="268.5" cy="480.5" r="3.47"/><circle cx="269.5" cy="479.5" r="3.47"/><circle cx="269.5" cy="479.5" r="3.47"/><circle cx="269.5" cy="478.5" r="3.47"/><circle cx="269.5" cy="478.5" r="3.47"/><circle cx="269.5" cy="477.5" r="3.47"/><circle cx="270.5" cy="477.5" r="3.47"/><circle cx="270.5" cy="476.5" r="3.47"/><circle cx="270.5" cy="476.5" r="3.47"/><circle cx="270.5" cy="475.5" r="3.47"/><circle cx="271.5" cy="474.5" r="3.47"/><circle cx="271.5" cy="474.5" r="3.47"/><circle cx="271.5" cy="473.5" r="3.47"/><circle cx="271.5" cy="472.5" r="3.47"/><circle cx="271.5" cy="471.5" r="3.47"/><circle cx="272.5" cy="470.5" r="3.47"/><circle cx="272.5" cy="469.5" r="3.47"/><circle cx="272.5" cy="468.5" r="3.47"/><circle cx="272.5" cy="466.5" r="3.47"/><circle cx="273.5" cy="465.5" r="3.47"/><circle cx="273.5" cy="463.5" r="3.47"/><circle cx="273.5" cy="461.5" r="3.47"/><circle cx="273.5" cy="459.5" r="3.47"/><circle cx="273.5" cy="457.5" r="3.47"/><circle cx="274.5" cy="455.5" r="3.47"/><circle cx="274.5" cy="452.5" r="3.47"/><circle cx="274.5" cy="449.5" r="3.47"/><circle cx="274.5" cy="445.5" r="3.47"/><circle cx="275.5" cy="441.5" r="3.47"/><circle cx="275.5" cy="436.5" r="3.47"/><circle cx="275.5" cy="431.5" r="3.47"/><circle cx="275.5" cy="426.5" r="3.47"/><circle cx="275.5" cy="419.5" r="3.47"/><circle cx="276.5" cy="412.5" r="3.47"/><circle cx="276.5" cy="405.5" r="3.47"/><circle cx="276.5" cy="396.5" r="3.47"/><circle cx="276.5" cy="387.5" r="3.47"/><circle cx="277.5" cy="378.5" r="3.47"/><circle cx="277.5" cy="369.5" r="3.47"/><circle cx="277.5" cy="361.5" r="3.47"/><circle cx="277.5" cy="353.5" r="3.47"/><circle cx="277.5" cy="348.5" r="3.47"/><circle cx="278.5" cy="345.5" r="3.47"/><circle cx="278.5" cy="345.5" r="3.47"/><circle cx="278.5" cy="347.5" r="3.47"/><circle cx="278.5" cy="352.5" r="3.47"/><circle cx="279.5" cy="358.5" r="3.47"/><circle cx="279.5" cy="366.5" r="3.47"/><circle cx="279.5" cy="374.5" r="3.47"/><circle cx="279.5" cy="382.5" r="3.47"/><circle cx="279.5" cy="390.5" r="3.47"/><circle cx="280.5" cy="398.5" r="3.47"/><circle cx="280.5" cy="404.5" r="3.47"/><circle cx="280.5" cy="410.5" r="3.47"/><circle cx="280.5" cy="415.5" r="3.47"/><circle cx="281.5" cy="419.5" r="3.47"/><circle cx="281.5" cy="423.5" r="3.47"/><circle cx="281.5" cy="426.5" r="3.47"/><circle cx="281.5" cy="428.5" r="3.47"/><circle cx="281.5" cy="429.5" r="3.47"/><circle cx="282.5" cy="430.5" r="3.47"/><circle cx="282.5" cy="431.5" r="3.47"/><circle cx="282.5" cy="431.5" r="3.47"/><circle cx="282.5" cy="431.5" r="3.47"/><circle cx="283.5" cy="432.5" r="3.47"/><circle cx="283.5" cy="432.5" r="3.47"/><circle cx="283.5" cy="433.5" r="3.47"/><circle cx="283.5" cy="434.5" r="3.47"/><circle cx="283.5" cy="435.5" r="3.47"/><circle cx="284.5" cy="437.5" r="3.47"/><circle cx="284.5" cy="440.5" r="3.47"/><circle cx="284.5" cy="443.5" r="3.47"/><circle cx="284.5" cy="446.5" r="3.47"/><circle cx="285.5" cy="448.5" r="3.47"/><circle cx="285.5" cy="451.5" r="3.47"/><circle cx="285.5" cy="454.5" r="3.47"/><circle cx="285.5" cy="457.5" r="3.47"/><circle cx="285.5" cy="459.5" r="3.47"/><circle cx="286.5" cy="461.5" r="3.47"/><circle cx="286.5" cy="463.5" r="3.47"/><circle cx="286.5" cy="465.5" r="3.47"/><circle cx="286.5" cy="467.5" r="3.47"/><circle cx="287.5" cy="468.5" r="3.47"/><circle cx="287.5" cy="469.5" r="3.47"/><circle cx="287.5" cy="471.5" r="3.47"/><circle cx="287.5" cy="472.5" r="3.47"/><circle cx="287.5" cy="473.5" r="3.47"/><circle cx="288.5" cy="474.5" r="3.47"/><circle cx="288.5" cy="475.5" r="3.47"/><circle cx="288.5" cy="475.5" r="3.47"/><circle cx="288.5" cy="476.5" r="3.47"/><circle cx="288.5" cy="477.5" r="3.47"/><circle cx="289.5" cy="477.5" r="3.47"/><circle cx="289.5" cy="478.5" r="3.47"/><circle cx="289.5" cy="478.5" r="3.47"/><circle cx="289.5" cy="479.5" r="3.47"/><circle cx="290.5" cy="479.5" r="3.47"/><circle cx="290.5" cy="480.5" r="3.47"/><circle cx="290.5" cy="480.5" r="3.47"/><circle cx="290.5" cy="480.5" r="3.47"/><circle cx="290.5" cy="481.5" r="3.47"/><circle cx="291.5" cy="481.5" r="3.47"/><circle cx="291.5" cy="481.5" r="3.47"/><circle cx="291.5" cy="482.5" r="3.47"/><circle cx="291.5" cy="482.5" r="3.47"/><circle cx="292.5" cy="482.5" r="3.47"/><circle cx="292.5" cy="482.5" r="3.47"/><circle cx="292.5" cy="483.5" r="3.47"/><circle cx="292.5" cy="483.5" r="3.47"/><circle cx="292.5" cy="483.5" r="3.47"/><circle cx="293.5" cy="483.5" r="3.47"/><circle cx="293.5" cy="484.5" r="3.47"/><circle cx="293.5" cy="484.5" r="3.47"/><circle cx="293.5" cy="484.5" r="3.47"/><circle cx="294.5" cy="484.5" r="3.47"/><circle cx="294.5" cy="484.5" r="3.47"/><circle cx="294.5" cy="484.5" r="3.47"/><circle cx="294.5" cy="484.5" r="3.47"/><circle cx="294.5" cy="485.5" r="3.47"/><circle cx="295.5" cy="485.5" r="3.47"/><circle cx="295.5" cy="485.5" r="3.47"/><circle cx="295.5" cy="485.5" r="3.47"/><circle cx="295.5" cy="485.5" r="3.47"/><circle cx="296.5" cy="485.5" r="3.47"/><circle cx="296.5" cy="485.5" r="3.47"/><circle cx="296.5" cy="485.5" r="3.47"/><circle cx="296.5" cy="486.5" r="3.47"/><circle cx="296.5" cy="486.5" r="3.47"/><circle cx="297.5" cy="486.5" r="3.47"/><circle cx="297.5" cy="486.5" r="3.47"/><circle cx="297.5" cy="486.5" r="3.47"/><circle cx="297.5" cy="486.5" r="3.47"/><circle cx="298.5" cy="486.5" r="3.47"/><circle cx="298.5" cy="486.5" r="3.47"/><circle cx="298.5" cy="486.5" r="3.47"/><circle cx="298.5" cy="486.5" r="3.47"/><circle cx="298.5" cy="486.5" r="3.47"/><circle cx="299.5" cy="486.5" r="3.47"/><circle cx="299.5" cy="486.5" r="3.47"/><circle cx="299.5" cy="486.5" r="3.47"/><circle cx="299.5" cy="487.5" r="3.47"/><circle cx="300.5" cy="487.5" r="3.47"/><circle cx="300.5" cy="487.5" r="3.47"/><circle cx="300.5" cy="487.5" r="3.47"/><circle cx="300.5" cy="487.5" r="3.47"/><circle cx="300.5" cy="487.5" r="3.47"/><circle cx="301.5" cy="487.5" r="3.47"/><circle cx="301.5" cy="487.5" r="3.47"/><circle cx="301.5" cy="487.5" r="3.47"/><circle cx="301.5" cy="487.5" r="3.47"/><circle cx="302.5" cy="487.5" r="3.47"/><circle cx="302.5" cy="487.5" r="3.47"/><circle cx="302.5" cy="487.5" r="3.47"/><circle cx="302.5" cy="487.5" r="3.47"/><circle cx="302.5" cy="487.5" r="3.47"/><circle cx="303.5" cy="487.5" r="3.47"/><circle cx="303.5" cy="487.5" r="3.47"/><circle cx="303.5" cy="487.5" r="3.47"/><circle cx="303.5" cy="487.5" r="3.47"/><circle cx="304.5" cy="487.5" r="3.47"/><circle cx="304.5" cy="487.5" r="3.47"/><circle cx="304.5" cy="487.5" r="3.47"/><circle cx="304.5" cy="487.5" r="3.47"/><circle cx="304.5" cy="487.5" r="3.47"/><circle cx="305.5" cy="488.5" r="3.47"/><circle cx="305.5" cy="488.5" r="3.47"/><circle cx="305.5" cy="488.5" r="3.47"/><circle cx="305.5" cy="488.5" r="3.47"/><circle cx="306.5" cy="488.5" r="3.47"/><circle cx="306.5" cy="488.5" r="3.47"/><circle cx="306.5" cy="488.5" r="3.47"/><circle cx="306.5" cy="488.5" r="3.47"/><circle cx="306.5" cy="488.5" r="3.47"/><circle cx="307.5" cy="488.5" r="3.47"/><circle cx="307.5" cy="488.5" r="3.47"/><circle cx="307.5" cy="488.5" r="3.47"/><circle cx="307.5" cy="488.5" r="3.47"/><circle cx="308.5" cy="488.5" r="3.47"/>
</g>
<polyline points="86.50,488.89 86.72,488.89 86.94,488.89 87.16,488.89 87.38,488.89 87.61,488.88 87.83,488.88 88.05,488.88 88.27,488.88 88.49,488.88 88.71,488.88 88.93,488.88 89.15,488.87 89.37,488.87 89.59,488.87 89.82,488.87 90.04,488.87 90.26,488.87 90.48,488.86 90.70,488.86 90.92,488.86 91.14,488.86 91.36,488.86 91.58,488.86 91.80,488.85 92.03,488.85 92.25,488.85 92.47,488.85 92.69,488.85 92.91,488.85 93.13,488.84 93.35,488.84 93.57,488.84 93.79,488.84 94.01,488.84 94.23,488.83 94.46,488.83 94.68,488.83 94.90,488.83 95.12,488.83 95.34,488.82 95.56,488.82 95.78,488.82 96.00,488.82 96.22,488.82 96.44,488.81 96.67,488.81 96.89,488.81 97.11,488.81 97.33,488.81 97.55,488.80 97.77,488.80 97.99,488.80 98.21,488.80 98.43,488.79 98.66,488.79 98.88,488.79 99.10,488.79 99.32,488.78 99.54,488.78 99.76,488.78 99.98,488.78 100.20,488.77 100.42,488.77 100.64,488.77 100.87,488.77 101.09,488.76 101.31,488.76 101.53,488.76 101.75,488.75 101.97,488.75 102.19,488.75 102.41,488.75 102.63,488.74 102.85,488.74 103.08,488.74 103.30,488.73 103.52,488.73 103.74,488.73 103.96,488.72 104.18,488.72 104.40,488.72 104.62,488.71 104.84,488.71 105.06,488.70 105.28,488.70 105.51,488.70 105.73,488.69 105.95,488.69 106.17,488.69 106.39,488.68 106.61,488.68 106.83,488.67 107.05,488.67 107.27,488.66 107.49,488.66 107.72,488.65 107.94,488.65 108.16,488.65 108.38,488.64 108.60,488.64 108.82,488.63 109.04,488.62 109.26,488.62 109.48,488.61 109.71,488.61 109.93,488.60 110.15,488.60 110.37,488.59 110.59,488.59 110.81,488.58 111.03,488.57 111.25,488.57 111.47,488.56 111.69,488.55 111.92,488.54 112.14,488.54 112.36,488.53 112.58,488.52 112.80,488.51 113.02,488.51 113.24,488.50 113.46,488.49 113.68,488.48 113.90,488.47 114.12,488.46 114.35,488.45 114.57,488.44 114.79,488.43 115.01,488.42 115.23,488.41 115.45,488.40 115.67,488.39 115.89,488.37 116.11,488.36 116.33,488.35 116.56,488.33 116.78,488.32 117.00,488.31 117.22,488.29 117.44,488.27 117.66,488.26 117.88,488.24 118.10,488.22 118.32,488.20 118.54,488.18 118.77,488.16 118.99,488.14 119.21,488.12 119.43,488.09 119.65,488.07 119.87,488.04 120.09,488.02 120.31,487.99 120.53,487.96 120.76,487.92 120.98,487.89 121.20,487.85 121.42,487.81 121.64,487.77 121.86,487.73 122.08,487.69 122.30,487.64 122.53,487.58 122.75,487.53 122.97,487.47 123.19,487.40 123.41,487.33 123.63,487.26 123.85,487.18 124.08,487.09 124.30,487.00 124.52,486.90 124.74,486.79 124.96,486.67 125.19,486.54 125.41,486.39 125.63,486.24 125.85,486.06 126.07,485.87 126.30,485.66 126.52,485.43 126.74,485.17 126.96,484.88 127.19,484.56 127.41,484.20 127.64,483.79 127.86,483.34 128.08,482.83 128.31,482.26 128.53,481.61 128.76,480.89 128.99,480.08 129.21,479.19 129.44,478.20 129.67,477.14 129.90,476.01 130.13,474.86 130.36,473.71 130.59,472.65 130.81,471.75 131.04,471.09 131.25,471.04 131.25,471.04 131.47,471.08 131.69,471.73 131.92,472.62 132.15,473.68 132.38,474.81 132.60,475.96 132.83,477.08 133.06,478.13 133.29,479.11 133.52,479.99 133.74,480.79 133.97,481.50 134.19,482.14 134.42,482.71 134.64,483.21 134.87,483.65 135.09,484.05 135.32,484.40 135.54,484.71 135.76,484.99 135.98,485.24 136.21,485.47 136.43,485.67 136.65,485.85 136.87,486.02 137.10,486.17 137.32,486.30 137.54,486.42 137.76,486.53 137.98,486.64 138.21,486.73 138.43,486.81 138.65,486.89 138.87,486.96 139.09,487.02 139.31,487.08 139.53,487.14 139.76,487.19 139.98,487.24 140.20,487.28 140.42,487.32 140.64,487.36 140.87,487.39 141.09,487.42 141.31,487.45 141.53,487.48 141.75,487.50 141.97,487.52 142.19,487.54 142.41,487.56 142.63,487.58 142.86,487.60 143.08,487.61 143.30,487.62 143.52,487.64 143.74,487.65 143.96,487.66 144.18,487.67 144.40,487.68 144.62,487.68 144.84,487.69 145.06,487.70 145.29,487.70 145.51,487.70 145.73,487.71 145.95,487.71 146.17,487.71 146.39,487.72 146.61,487.72 146.83,487.72 147.05,487.72 147.28,487.72 147.50,487.72 147.72,487.72 147.94,487.71 148.16,487.71 148.38,487.71 148.60,487.71 148.82,487.70 149.04,487.70 149.26,487.69 149.48,487.69 149.71,487.68 149.93,487.68 150.15,487.67 150.37,487.67 150.59,487.66 150.81,487.65 151.03,487.65 151.25,487.64 151.47,487.63 151.69,487.62 151.92,487.61 152.14,487.61 152.36,487.60 152.58,487.59 152.80,487.58 153.02,487.57 153.24,487.56 153.46,487.55 153.68,487.54 153.91,487.52 154.13,487.51 154.35,487.50 154.57,487.49 154.79,487.48 155.01,487.46 155.23,487.45 155.45,487.44 155.67,487.42 155.89,487.41 156.12,487.39 156.34,487.38 156.56,487.36 156.78,487.35 157.00,487.33 157.22,487.31 157.44,487.30 157.66,487.28 157.88,487.26 158.10,487.24 158.32,487.23 158.55,487.21 158.77,487.19 158.99,487.17 159.21,487.15 159.43,487.13 159.65,487.11 159.87,487.09 160.09,487.06 160.31,487.04 160.53,487.02 160.76,486.99 160.98,486.97 161.20,486.95 161.42,486.92 161.64,486.89 161.86,486.87 162.08,486.84 162.30,486.81 162.52,486.79 162.74,486.76 162.97,486.73 163.19,486.70 163.41,486.67 163.63,486.63 163.85,486.60 164.07,486.57 164.29,486.53 164.51,486.50 164.73,486.46 164.96,486.43 165.18,486.39 165.40,486.35 165.62,486.31 165.84,486.27 166.06,486.23 166.28,486.19 166.50,486.14 166.72,486.10 166.94,486.05 167.17,486.00 167.39,485.95 167.61,485.90 167.83,485.85 168.05,485.80 168.27,485.75 168.49,485.69 168.71,485.63 168.93,485.57 169.15,485.51 169.38,485.45 169.60,485.39 169.82,485.32 170.04,485.25 170.26,485.18 170.48,485.11 170.70,485.04 170.92,484.96 171.14,484.88 171.36,484.80 171.58,484.72 171.81,484.63 172.03,484.55 172.25,484.46 172.47,484.36 172.69,484.27 172.91,484.17 173.13,484.06 173.35,483.96 173.57,483.85 173.79,483.74 174.02,483.62 174.24,483.50 174.46,483.38 174.68,483.25 174.90,483.12 175.12,482.98 175.34,482.84 175.56,482.70 175.78,482.55 176.01,482.40 176.23,482.24 176.45,482.07 176.67,481.90 176.89,481.73 177.11,481.54 177.33,481.36 177.55,481.16 177.77,480.96 177.99,480.75 178.22,480.54 178.44,480.31 178.66,480.08 178.88,479.84 179.10,479.59 179.32,479.34 179.54,479.07 179.76,478.79 179.98,478.51 180.20,478.21 180.43,477.90 180.65,477.58 180.87,477.24 181.09,476.89 181.31,476.53 181.53,476.16 181.75,475.76 181.97,475.35 182.19,474.93 182.41,474.48 182.63,474.02 182.86,473.54 183.08,473.03 183.30,472.50 183.52,471.94 183.74,471.36 183.96,470.75 184.18,470.12 184.40,469.44 184.62,468.74 184.84,468.00 185.07,467.21 185.29,466.39 185.51,465.52 185.73,464.59 185.95,463.62 186.17,462.58 186.39,461.49 186.81,460.32 187.04,459.07 187.27,457.75 187.50,456.33 187.73,454.80 187.96,453.17 188.20,451.42 188.43,449.52 188.66,447.48 188.88,445.27 189.10,442.86 189.32,440.25 189.55,437.40 189.77,434.28 189.99,430.87 190.21,427.11 190.43,422.97 190.65,418.40 190.87,413.33 191.09,407.70 191.31,401.43 191.53,394.43 191.75,386.60 191.98,377.82 192.20,367.97 192.70,356.89 192.92,344.43 193.14,330.42 193.36,314.69 193.58,297.10 193.80,277.53 194.02,255.94 194.25,232.41 194.47,207.25 194.69,181.00 194.91,154.57 195.13,129.26 195.35,106.70 195.57,88.72 195.73,81.12 195.73,81.12 195.73,81.12 195.89,87.86 196.12,105.41 196.34,127.53 196.56,152.38 196.78,178.33 197.00,204.07 197.22,228.71 197.44,251.66 197.66,272.65 197.88,291.57 198.11,308.45 198.33,323.41 198.55,336.58 198.77,348.13 198.99,358.21 199.21,366.99 199.71,374.60 199.93,381.20 200.15,411.64 200.37,411.64 200.59,411.64 200.82,411.64 201.04,411.64 201.26,411.64 201.48,411.64 201.48,413.20 201.48,416.28 201.58,419.30 201.80,422.21 202.02,424.97 202.25,427.53 202.47,429.86 202.69,431.92 202.91,433.71 203.13,435.22 203.35,436.44 203.57,437.38 203.79,438.03 204.01,438.39 204.51,438.45 204.73,438.21 204.96,437.66 205.18,436.77 205.40,435.54 205.62,433.94 205.84,431.95 206.06,429.57 206.28,426.80 206.50,423.67 206.72,420.22 206.94,416.56 207.17,412.85 207.39,409.30 207.61,406.19 207.83,404.03 208.05,404.03 208.27,404.03 208.27,404.03 208.27,405.83 208.37,409.21 208.60,413.34 208.82,417.93 209.04,422.69 209.26,427.43 209.48,431.99 209.98,436.27 210.20,440.22 210.42,443.82 210.64,447.09 210.88,450.02 211.12,452.66 211.36,455.02 211.59,457.14 211.83,459.04 212.06,460.74 212.29,462.27 212.52,463.64 212.75,464.88 212.98,465.99 213.21,467.00 213.43,467.91 213.66,468.73 213.89,469.47 214.11,470.15 214.34,470.75 214.56,471.30 214.79,471.80 215.01,472.25 215.24,472.65 215.46,473.00 215.68,473.32 215.91,473.60 216.13,473.84 216.35,474.05 216.57,474.22 216.79,474.36 217.02,474.47 217.33,474.55 217.55,474.59 217.87,474.61 218.09,474.59 218.31,474.53 218.53,474.45 218.75,474.32 218.98,474.16 219.20,473.96 219.42,473.72 219.64,473.44 219.87,473.11 220.09,472.72 220.32,472.28 220.54,471.78 220.76,471.21 220.99,470.57 221.22,469.85 221.44,469.04 221.67,468.13 221.90,467.10 222.13,465.96 222.36,464.67 222.59,463.23 222.82,461.61 223.05,459.80 223.29,457.77 223.53,455.50 223.77,452.96 224.01,450.13 224.24,446.99 224.46,443.52 224.68,439.72 224.91,435.59 225.13,431.19 225.35,426.57 225.57,421.86 225.79,417.23 226.01,412.90 226.23,409.13 226.45,406.20 226.61,405.43 226.61,405.43 226.61,405.43 226.78,406.42 227.00,409.47 227.22,413.35 227.44,417.79 227.66,422.53 227.88,427.36 228.10,432.09 228.32,436.61 228.54,440.85 228.76,444.77 228.99,448.37 229.23,451.63 229.47,454.58 229.71,457.25 229.95,459.65 230.19,461.81 230.42,463.75 230.66,465.51 230.89,467.09 231.12,468.52 231.35,469.81 231.58,470.99 231.81,472.05 232.03,473.02 232.26,473.91 232.49,474.72 232.71,475.46 232.94,476.14 233.17,476.77 233.39,477.34 233.62,477.88 233.84,478.37 234.06,478.83 234.29,479.25 234.51,479.64 234.74,480.01 234.96,480.35 235.18,480.67 235.40,480.97 235.68,481.25 235.90,481.51 236.12,481.76 236.34,481.99 236.56,482.20 236.78,482.41 237.00,482.60 237.22,482.79 237.44,482.96 237.66,483.12 237.89,483.28 238.11,483.42 238.33,483.56 238.55,483.69 238.77,483.82 238.99,483.94 239.21,484.05 239.43,484.16 239.65,484.26 239.87,484.36 240.09,484.45 240.32,484.54 240.54,484.62 240.76,484.71 240.98,484.78 241.20,484.86 241.42,484.93 241.64,484.99 241.86,485.06 242.08,485.12 242.31,485.18 242.53,485.23 242.75,485.29 242.97,485.34 243.19,485.39 243.41,485.43 243.63,485.48 243.85,485.52 244.07,485.56 244.29,485.60 244.51,485.64 244.74,485.67 244.96,485.71 245.18,485.74 245.40,485.77 245.62,485.80 245.84,485.83 246.06,485.85 246.28,485.88 246.50,485.90 246.72,485.92 246.95,485.94 247.17,485.96 247.39,485.98 247.61,486.00 247.83,486.01 248.05,486.03 248.27,486.04 248.49,486.05 248.71,486.06 248.94,486.07 249.16,486.08 249.38,486.09 249.60,486.10 249.82,486.10 250.04,486.11 250.26,486.11 250.48,486.11 250.70,486.11 250.92,486.11 251.14,486.11 251.37,486.11 251.59,486.11 251.81,486.10 252.03,486.10 252.25,486.09 252.47,486.08 252.69,486.07 252.91,486.06 253.13,486.05 253.36,486.04 253.58,486.02 253.80,486.01 254.02,485.99 254.24,485.97 254.46,485.95 254.68,485.93 254.90,485.91 255.12,485.89 255.34,485.86 255.56,485.84 255.79,485.81 256.01,485.78 256.23,485.75 256.45,485.71 256.67,485.68 256.89,485.64 257.11,485.60 257.33,485.56 257.55,485.52 257.77,485.48 258.00,485.43 258.22,485.38 258.44,485.33 258.66,485.28 258.88,485.22 259.10,485.17 259.32,485.10 259.54,485.04 259.76,484.98 259.99,484.91 260.21,484.84 260.43,484.76 260.65,484.68 260.87,484.60 261.09,484.52 261.31,484.43 261.53,484.34 261.75,484.24 261.97,484.14 262.19,484.03 262.42,483.93 262.64,483.81 262.86,483.69 263.08,483.57 263.30,483.44 263.52,483.30 263.74,483.16 263.96,483.01 264.18,482.86 264.41,482.69 264.63,482.52 264.85,482.35 265.07,482.16 265.29,481.96 265.51,481.76 265.73,481.54 265.95,481.32 266.17,481.08 266.39,480.83 266.61,480.57 266.84,480.29 267.06,480.00 267.28,479.69 267.50,479.37 267.72,479.02 267.94,478.66 268.16,478.28 268.38,477.87 268.60,477.44 268.82,476.98 269.13,476.49 269.35,475.97 269.58,475.41 269.80,474.82 270.03,474.18 270.25,473.50 270.48,472.78 270.71,471.99 270.93,471.15 271.16,470.24 271.39,469.26 271.62,468.19 271.84,467.04 272.07,465.78 272.31,464.42 272.54,462.93 272.77,461.30 273.00,459.52 273.24,457.57 273.47,455.43 273.71,453.07 273.95,450.47 274.19,447.60 274.41,444.44 274.63,440.95 274.85,437.10 275.07,432.85 275.29,428.19 275.51,423.07 275.74,417.48 275.96,411.44 276.18,404.95 276.40,398.07 276.62,390.92 276.84,383.65 277.06,376.47 277.28,369.67 277.50,363.59 277.72,358.57 277.94,355.40 278.00,355.40 278.00,355.40 278.05,355.40 278.27,357.81 278.49,362.51 278.71,368.25 278.93,374.68 279.15,381.47 279.37,388.31 279.60,395.00 279.82,401.35 280.04,407.28 280.26,412.71 280.48,417.63 280.70,422.03 280.92,425.96 281.14,429.46 281.36,432.59 281.58,435.44 281.81,438.09 282.03,440.61 282.25,443.07 282.47,445.50 282.69,447.93 282.93,450.34 283.16,452.70 283.40,454.99 283.64,457.16 283.87,459.21 284.11,461.11 284.34,462.87 284.57,464.49 284.80,465.97 285.03,467.33 285.26,468.57 285.49,469.71 285.72,470.75 285.95,471.71 286.18,472.59 286.40,473.40 286.63,474.15 286.85,474.85 287.17,475.49 287.39,476.09 287.61,476.65 287.83,477.17 288.05,477.66 288.27,478.12 288.49,478.55 288.71,478.96 288.94,479.34 289.16,479.70 289.38,480.04 289.60,480.36 289.82,480.67 290.04,480.96 290.26,481.23 290.48,481.49 290.70,481.74 290.93,481.98 291.15,482.21 291.37,482.42 291.59,482.63 291.81,482.82 292.03,483.01 292.25,483.19 292.47,483.37 292.69,483.53 292.91,483.69 293.14,483.84 293.36,483.99 293.58,484.13 293.80,484.27 294.02,484.40 294.24,484.52 294.46,484.64 294.68,484.76 294.90,484.87 295.12,484.98 295.34,485.08 295.57,485.18 295.79,485.28 296.01,485.37 296.23,485.46 296.45,485.55 296.67,485.63 296.89,485.72 297.11,485.79 297.33,485.87 297.56,485.94 297.78,486.02 298.00,486.08 298.22,486.15 298.44,486.22 298.66,486.28 298.88,486.34 299.10,486.40 299.32,486.45 299.54,486.51 299.76,486.56 299.99,486.61 300.21,486.67 300.43,486.71 300.65,486.76 300.87,486.81 301.09,486.85 301.31,486.90 301.53,486.94 301.75,486.98 301.98,487.02 302.20,487.06 302.42,487.09 302.64,487.13 302.86,487.17 303.08,487.20 303.30,487.23 303.52,487.27 303.74,487.30 303.96,487.33 304.19,487.36 304.41,487.39 304.63,487.42 304.85,487.44 305.07,487.47 305.29,487.50 305.51,487.52 305.73,487.55 305.95,487.57 306.17,487.59 306.39,487.62 306.62,487.64 306.84,487.66 307.06,487.68 307.28,487.70 307.50,487.72" fill="none" stroke="#f00" stroke-width="0.69" stroke-linejoin="round" stroke-linecap="butt"/>
<polyline points="86.50,488.89 86.72,488.89 86.94,488.89 87.16,488.89 87.38,488.89 87.61,488.88 87.83,488.88 88.05,488.88 88.27,488.88 88.49,488.88 88.71,488.88 88.93,488.88 89.15,488.87 89.37,488.87 89.59,488.87 89.82,488.87 90.04,488.87 90.26,488.87 90.48,488.86 90.70,488.86 90.92,488.86 91.14,488.86 91.36,488.86 91.58,488.86 91.80,488.85 92.03,488.85 92.25,488.85 92.47,488.85 92.69,488.85 92.91,488.85 93.13,488.84 93.35,488.84 93.57,488.84 93.79,488.84 94.01,488.84 94.23,488.83 94.46,488.83 94.68,488.83 94.90,488.83 95.12,488.83 95.34,488.82 95.56,488.82 95.78,488.82 96.00,488.82 96.22,488.82 96.44,488.81 96.67,488.81 96.89,488.81 97.11,488.81 97.33,488.81 97.55,488.80 97.77,488.80 97.99,488.80 98.21,488.80 98.43,488.79 98.66,488.79 98.88,488.79 99.10,488.79 99.32,488.78 99.54,488.78 99.76,488.78 99.98,488.78 100.20,488.77 100.42,488.77 100.64,488.77 100.87,488.77 101.09,488.76 101.31,488.76 101.53,488.76 101.75,488.75 101.97,488.75 102.19,488.75 102.41,488.75 102.63,488.74 102.85,488.74 103.08,488.74 103.30,488.73 103.52,488.73 103.74,488.73 103.96,488.72 104.18,488.72 104.40,488.72 104.62,488.71 104.84,488.71 105.06,488.70 105.28,488.70 105.51,488.70 105.73,488.69 105.95,488.69 106.17,488.69 106.39,488.68 106.61,488.68 106.83,488.67 107.05,488.67 107.27,488.66 107.49,488.66 107.72,488.65 107.94,488.65 108.16,488.65 108.38,488.64 108.60,488.64 108.82,488.63 109.04,488.62 109.26,488.62 109.48,488.61 109.71,488.61 109.93,488.60 110.15,488.60 110.37,488.59 110.59,488.59 110.81,488.58 111.03,488.57 111.25,488.57 111.47,488.56 111.69,488.55 111.92,488.54 112.14,488.54 112.36,488.53 112.58,488.52 112.80,488.51 113.02,488.51 113.24,488.50 113.46,488.49 113.68,488.48 113.90,488.47 114.12,488.46 114.35,488.45 114.57,488.44 114.79,488.43 115.01,488.42 115.23,488.41 115.45,488.40 115.67,488.39 115.89,488.37 116.11,488.36 116.33,488.35 116.56,488.33 116.78,488.32 117.00,488.31 117.22,488.29 117.44,488.27 117.66,488.26 117.88,488.24 118.10,488.22 118.32,488.20 118.54,488.18 118.77,488.16 118.99,488.14 119.21,488.12 119.43,488.09 119.65,488.07 119.87,488.04 120.09,488.02 120.31,487.99 120.53,487.96 120.76,487.92 120.98,487.89 121.20,487.85 121.42,487.81 121.64,487.77 121.86,487.73 122.08,487.69 122.30,487.64 122.52,487.58 122.74,487.53 122.97,487.47 123.19,487.40 123.41,487.33 123.63,487.26 123.85,487.18 124.07,487.09 124.29,487.00 124.51,486.90 124.73,486.79 124.95,486.67 125.17,486.54 125.40,486.39 125.62,486.24 125.84,486.06 126.06,485.87 126.28,485.66 126.50,485.43 126.72,485.17 126.94,484.88 127.16,484.56 127.38,484.20 127.61,483.79 127.83,483.34 128.05,482.83 128.27,482.26 128.49,481.61 128.71,480.89 128.93,480.08 129.15,479.19 129.37,478.20 129.59,477.14 129.82,476.01 130.04,474.86 130.26,473.71 130.48,472.65 130.70,471.75 130.92,471.09 131.14,470.74 131.36,470.74 131.58,471.08 131.81,471.73 132.03,472.62 132.25,473.68 132.47,474.81 132.69,475.96 132.91,477.08 133.13,478.13 133.35,479.11 133.57,479.99 133.79,480.79 134.02,481.50 134.24,482.14 134.46,482.71 134.68,483.21 134.90,483.65 135.12,484.05 135.34,484.40 135.56,484.71 135.78,484.99 136.00,485.24 136.22,485.47 136.45,485.67 136.67,485.85 136.89,486.02 137.11,486.17 137.33,486.30 137.55,486.42 137.77,486.53 137.99,486.64 138.21,486.73 138.44,486.81 138.66,486.89 138.88,486.96 139.10,487.02 139.32,487.08 139.54,487.14 139.76,487.19 139.98,487.24 140.20,487.28 140.42,487.32 140.64,487.36 140.87,487.39 141.09,487.42 141.31,487.45 141.53,487.48 141.75,487.50 141.97,487.52 142.19,487.54 142.41,487.56 142.63,487.58 142.86,487.60 143.08,487.61 143.30,487.62 143.52,487.64 143.74,487.65 143.96,487.66 144.18,487.67 144.40,487.68 144.62,487.68 144.84,487.69 145.06,487.70 145.29,487.70 145.51,487.70 145.73,487.71 145.95,487.71 146.17,487.71 146.39,487.72 146.61,487.72 146.83,487.72 147.05,487.72 147.28,487.72 147.50,487.72 147.72,487.72 147.94,487.71 148.16,487.71 148.38,487.71 148.60,487.71 148.82,487.70 149.04,487.70 149.26,487.69 149.48,487.69 149.71,487.68 149.93,487.68 150.15,487.67 150.37,487.67 150.59,487.66 150.81,487.65 151.03,487.65 151.25,487.64 151.47,487.63 151.69,487.62 151.92,487.61 152.14,487.61 152.36,487.60 152.58,487.59 152.80,487.58 153.02,487.57 153.24,487.56 153.46,487.55 153.68,487.54 153.91,487.52 154.13,487.51 154.35,487.50 154.57,487.49 154.79,487.48 155.01,487.46 155.23,487.45 155.45,487.44 155.67,487.42 155.89,487.41 156.12,487.39 156.34,487.38 156.56,487.36 156.78,487.35 157.00,487.33 157.22,487.31 157.44,487.30 157.66,487.28 157.88,487.26 158.10,487.24 158.32,487.23 158.55,487.21 158.77,487.19 158.99,487.17 159.21,487.15 159.43,487.13 159.65,487.11 159.87,487.09 160.09,487.06 160.31,487.04 160.53,487.02 160.76,486.99 160.98,486.97 161.20,486.95 161.42,486.92 161.64,486.89 161.86,486.87 162.08,486.84 162.30,486.81 162.52,486.79 162.74,486.76 162.97,486.73 163.19,486.70 163.41,486.67 163.63,486.63 163.85,486.60 164.07,486.57 164.29,486.53 164.51,486.50 164.73,486.46 164.96,486.43 165.18,486.39 165.40,486.35 165.62,486.31 165.84,486.27 166.06,486.23 166.28,486.19 166.50,486.14 166.72,486.10 166.94,486.05 167.17,486.00 167.39,485.95 167.61,485.90 167.83,485.85 168.05,485.80 168.27,485.75 168.49,485.69 168.71,485.63 168.93,485.57 169.15,485.51 169.38,485.45 169.60,485.39 169.82,485.32 170.04,485.25 170.26,485.18 170.48,485.11 170.70,485.04 170.92,484.96 171.14,484.88 171.36,484.80 171.58,484.72 171.81,484.63 172.03,484.55 172.25,484.46 172.47,484.36 172.69,484.27 172.91,484.17 173.13,484.06 173.35,483.96 173.57,483.85 173.79,483.74 174.02,483.62 174.24,483.50 174.46,483.38 174.68,483.25 174.90,483.12 175.12,482.98 175.34,482.84 175.56,482.70 175.78,482.55 176.01,482.40 176.23,482.24 176.45,482.07 176.67,481.90 176.89,481.73 177.11,481.54 177.33,481.36 177.55,481.16 177.77,480.96 177.99,480.75 178.22,480.54 178.44,480.31 178.66,480.08 178.88,479.84 179.10,479.59 179.32,479.34 179.54,479.07 179.76,478.79 179.98,478.51 180.20,478.21 180.43,477.90 180.65,477.58 180.87,477.24 181.09,476.89 181.31,476.53 181.53,476.16 181.75,475.76 181.97,475.35 182.19,474.93 182.41,474.48 182.63,474.02 182.86,473.54 183.08,473.03 183.30,472.50 183.52,471.94 183.74,471.36 183.96,470.75 184.18,470.12 184.40,469.44 184.62,468.74 184.84,468.00 185.07,467.21 185.29,466.39 185.51,465.52 185.73,464.59 185.95,463.62 186.17,462.58 186.39,461.49 186.61,460.32 186.83,459.07 187.06,457.75 187.28,456.33 187.50,454.80 187.72,453.17 187.94,451.42 188.16,449.52 188.38,447.48 188.60,445.27 188.82,442.86 189.04,440.25 189.27,437.40 189.49,434.28 189.71,430.87 189.93,427.11 190.15,422.97 190.37,418.40 190.59,413.33 190.81,407.70 191.03,401.43 191.25,394.43 191.47,386.60 191.70,377.82 191.92,367.97 192.14,356.89 192.36,344.43 192.58,330.42 192.80,314.69 193.02,297.10 193.24,277.53 193.46,255.94 193.69,232.41 193.91,207.25 194.13,181.00 194.35,154.57 194.57,129.26 194.79,106.70 195.01,88.72 195.23,77.01 195.45,72.82 195.67,76.59 195.89,87.86 196.12,105.41 196.34,127.53 196.56,152.38 196.78,178.33 197.00,204.07 197.22,228.71 197.44,251.66 197.66,272.65 197.88,291.57 198.11,308.45 198.33,323.41 198.55,336.58 198.77,348.13 198.99,358.21 199.21,366.99 199.43,374.60 199.65,381.20 199.87,386.90 200.09,391.86 200.31,396.20 200.54,400.06 200.76,403.59 200.98,406.89 201.20,410.08 201.42,413.20 201.64,416.28 201.86,419.30 202.08,422.21 202.30,424.97 202.53,427.53 202.75,429.86 202.97,431.92 203.19,433.71 203.41,435.22 203.63,436.44 203.85,437.38 204.07,438.03 204.29,438.39 204.51,438.45 204.73,438.21 204.96,437.66 205.18,436.77 205.40,435.54 205.62,433.94 205.84,431.95 206.06,429.57 206.28,426.80 206.50,423.67 206.72,420.22 206.94,416.56 207.17,412.85 207.39,409.30 207.61,406.19 207.83,403.82 208.05,402.46 208.27,402.32 208.49,403.46 208.71,405.83 208.93,409.21 209.16,413.34 209.38,417.93 209.60,422.69 209.82,427.43 210.04,431.99 210.26,436.27 210.48,440.22 210.70,443.82 210.92,447.09 211.14,450.02 211.37,452.66 211.59,455.02 211.81,457.14 212.03,459.04 212.25,460.74 212.47,462.27 212.69,463.64 212.91,464.88 213.13,465.99 213.35,467.00 213.57,467.91 213.80,468.73 214.02,469.47 214.24,470.15 214.46,470.75 214.68,471.30 214.90,471.80 215.12,472.25 215.34,472.65 215.56,473.00 215.78,473.32 216.01,473.60 216.23,473.84 216.45,474.05 216.67,474.22 216.89,474.36 217.11,474.47 217.33,474.55 217.55,474.59 217.77,474.61 217.99,474.59 218.22,474.53 218.44,474.45 218.66,474.32 218.88,474.16 219.10,473.96 219.32,473.72 219.54,473.44 219.76,473.11 219.98,472.72 220.21,472.28 220.43,471.78 220.65,471.21 220.87,470.57 221.09,469.85 221.31,469.04 221.53,468.13 221.75,467.10 221.97,465.96 222.19,464.67 222.41,463.23 222.64,461.61 222.86,459.80 223.08,457.77 223.30,455.50 223.52,452.96 223.74,450.13 223.96,446.99 224.18,443.52 224.40,439.72 224.62,435.59 224.85,431.19 225.07,426.57 225.29,421.86 225.51,417.23 225.73,412.90 225.95,409.13 226.17,406.20 226.39,404.34 226.61,403.74 226.84,404.45 227.06,406.42 227.28,409.47 227.50,413.35 227.72,417.79 227.94,422.53 228.16,427.36 228.38,432.09 228.60,436.61 228.82,440.85 229.04,444.77 229.27,448.37 229.49,451.63 229.71,454.58 229.93,457.25 230.15,459.65 230.37,461.81 230.59,463.75 230.81,465.51 231.03,467.09 231.26,468.52 231.48,469.81 231.70,470.99 231.92,472.05 232.14,473.02 232.36,473.91 232.58,474.72 232.80,475.46 233.02,476.14 233.24,476.77 233.46,477.34 233.69,477.88 233.91,478.37 234.13,478.83 234.35,479.25 234.57,479.64 234.79,480.01 235.01,480.35 235.23,480.67 235.45,480.97 235.68,481.25 235.90,481.51 236.12,481.76 236.34,481.99 236.56,482.20 236.78,482.41 237.00,482.60 237.22,482.79 237.44,482.96 237.66,483.12 237.89,483.28 238.11,483.42 238.33,483.56 238.55,483.69 238.77,483.82 238.99,483.94 239.21,484.05 239.43,484.16 239.65,484.26 239.87,484.36 240.09,484.45 240.32,484.54 240.54,484.62 240.76,484.71 240.98,484.78 241.20,484.86 241.42,484.93 241.64,484.99 241.86,485.06 242.08,485.12 242.31,485.18 242.53,485.23 242.75,485.29 242.97,485.34 243.19,485.39 243.41,485.43 243.63,485.48 243.85,485.52 244.07,485.56 244.29,485.60 244.51,485.64 244.74,485.67 244.96,485.71 245.18,485.74 245.40,485.77 245.62,485.80 245.84,485.83 246.06,485.85 246.28,485.88 246.50,485.90 246.72,485.92 246.95,485.94 247.17,485.96 247.39,485.98 247.61,486.00 247.83,486.01 248.05,486.03 248.27,486.04 248.49,486.05 248.71,486.06 248.94,486.07 249.16,486.08 249.38,486.09 249.60,486.10 249.82,486.10 250.04,486.11 250.26,486.11 250.48,486.11 250.70,486.11 250.92,486.11 251.14,486.11 251.37,486.11 251.59,486.11 251.81,486.10 252.03,486.10 252.25,486.09 252.47,486.08 252.69,486.07 252.91,486.06 253.13,486.05 253.36,486.04 253.58,486.02 253.80,486.01 254.02,485.99 254.24,485.97 254.46,485.95 254.68,485.93 254.90,485.91 255.12,485.89 255.34,485.86 255.56,485.84 255.79,485.81 256.01,485.78 256.23,485.75 256.45,485.71 256.67,485.68 256.89,485.64 257.11,485.60 257.33,485.56 257.55,485.52 257.77,485.48 258.00,485.43 258.22,485.38 258.44,485.33 258.66,485.28 258.88,485.22 259.10,485.17 259.32,485.10 259.54,485.04 259.76,484.98 259.99,484.91 260.21,484.84 260.43,484.76 260.65,484.68 260.87,484.60 261.09,484.52 261.31,484.43 261.53,484.34 261.75,484.24 261.97,484.14 262.19,484.03 262.42,483.93 262.64,483.81 262.86,483.69 263.08,483.57 263.30,483.44 263.52,483.30 263.74,483.16 263.96,483.01 264.18,482.86 264.41,482.69 264.63,482.52 264.85,482.35 265.07,482.16 265.29,481.96 265.51,481.76 265.73,481.54 265.95,481.32 266.17,481.08 266.39,480.83 266.61,480.57 266.84,480.29 267.06,480.00 267.28,479.69 267.50,479.37 267.72,479.02 267.94,478.66 268.16,478.28 268.38,477.87 268.60,477.44 268.82,476.98 269.05,476.49 269.27,475.97 269.49,475.41 269.71,474.82 269.93,474.18 270.15,473.50 270.37,472.78 270.59,471.99 270.81,471.15 271.04,470.24 271.26,469.26 271.48,468.19 271.70,467.04 271.92,465.78 272.14,464.42 272.36,462.93 272.58,461.30 272.80,459.52 273.02,457.57 273.25,455.43 273.47,453.07 273.69,450.47 273.91,447.60 274.13,444.44 274.35,440.95 274.57,437.10 274.79,432.85 275.01,428.19 275.23,423.07 275.46,417.48 275.68,411.44 275.90,404.95 276.12,398.07 276.34,390.92 276.56,383.65 276.78,376.47 277.00,369.67 277.22,363.59 277.44,358.57 277.66,354.96 277.89,353.00 278.11,352.85 278.33,354.51 278.55,357.81 278.77,362.51 278.99,368.25 279.21,374.68 279.43,381.47 279.65,388.31 279.88,395.00 280.10,401.35 280.32,407.28 280.54,412.71 280.76,417.63 280.98,422.03 281.20,425.96 281.42,429.46 281.64,432.59 281.86,435.44 282.09,438.09 282.31,440.61 282.53,443.07 282.75,445.50 282.97,447.93 283.19,450.34 283.41,452.70 283.63,454.99 283.85,457.16 284.07,459.21 284.29,461.11 284.52,462.87 284.74,464.49 284.96,465.97 285.18,467.33 285.40,468.57 285.62,469.71 285.84,470.75 286.06,471.71 286.28,472.59 286.50,473.40 286.73,474.15 286.95,474.85 287.17,475.49 287.39,476.09 287.61,476.65 287.83,477.17 288.05,477.66 288.27,478.12 288.49,478.55 288.71,478.96 288.94,479.34 289.16,479.70 289.38,480.04 289.60,480.36 289.82,480.67 290.04,480.96 290.26,481.23 290.48,481.49 290.70,481.74 290.93,481.98 291.15,482.21 291.37,482.42 291.59,482.63 291.81,482.82 292.03,483.01 292.25,483.19 292.47,483.37 292.69,483.53 292.91,483.69 293.14,483.84 293.36,483.99 293.58,484.13 293.80,484.27 294.02,484.40 294.24,484.52 294.46,484.64 294.68,484.76 294.90,484.87 295.12,484.98 295.34,485.08 295.57,485.18 295.79,485.28 296.01,485.37 296.23,485.46 296.45,485.55 296.67,485.63 296.89,485.72 297.11,485.79 297.33,485.87 297.56,485.94 297.78,486.02 298.00,486.08 298.22,486.15 298.44,486.22 298.66,486.28 298.88,486.34 299.10,486.40 299.32,486.45 299.54,486.51 299.76,486.56 299.99,486.61 300.21,486.67 300.43,486.71 300.65,486.76 300.87,486.81 301.09,486.85 301.31,486.90 301.53,486.94 301.75,486.98 301.98,487.02 302.20,487.06 302.42,487.09 302.64,487.13 302.86,487.17 303.08,487.20 303.30,487.23 303.52,487.27 303.74,487.30 303.96,487.33 304.19,487.36 304.41,487.39 304.63,487.42 304.85,487.44 305.07,487.47 305.29,487.50 305.51,487.52 305.73,487.55 305.95,487.57 306.17,487.59 306.39,487.62 306.62,487.64 306.84,487.66 307.06,487.68 307.28,487.70 307.50,487.72" fill="none" stroke="#00f" stroke-width="0.69" stroke-linejoin="round" stroke-linecap="butt"/>
</g>
<g stroke="#000" stroke-width="1.11" fill="none">
<rect x="86.5" y="48.5" width="221" height="462"/>
<line x1="86.5" y1="510.5" x2="86.5" y2="515.36"/><line x1="197.5" y1="510.5" x2="197.5" y2="515.36"/><line x1="307.5" y1="510.5" x2="307.5" y2="515.36"/>
<line x1="86.5" y1="48.5" x2="81.64" y2="48.5"/><line x1="86.5" y1="122.5" x2="81.64" y2="122.5"/><line x1="86.5" y1="195.5" x2="81.64" y2="195.5"/><line x1="86.5" y1="269.5" x2="81.64" y2="269.5"/><line x1="86.5" y1="342.5" x2="81.64" y2="342.5"/><line x1="86.5" y1="416.5" x2="81.64" y2="416.5"/><line x1="86.5" y1="489.5" x2="81.64" y2="489.5"/>
</g>
<rect x="193.5" y="237.5" width="106.00" height="84.00" rx="3.33" fill="#fff" fill-opacity="0.8" stroke="#ccc" stroke-opacity="0.8" stroke-width="1.1"/>
<circle cx="216.6" cy="252.0" r="3.47" fill="#fff" stroke="#000" stroke-width="1.39"/>
<line x1="199.9" y1="278.4" x2="233.3" y2="278.4" stroke="#f00" stroke-width="0.69" stroke-linecap="square"/>
<line x1="199.9" y1="304.7" x2="233.3" y2="304.7" stroke="#00f" stroke-width="0.69" stroke-linecap="square"/>
<g clip-path="url(#cr)">
<polyline points="457.65,48.50 501.95,170.25 546.25,378.00 590.55,450.00 634.85,480.00 679.15,510.50" fill="none" stroke="#000" stroke-width="0.69" stroke-linejoin="round" stroke-linecap="butt"/>
<g fill="#000" stroke="#000" stroke-width="1.39"><circle cx="458.5" cy="49.5" r="3.47"/><circle cx="502.5" cy="170.5" r="3.47"/><circle cx="546.5" cy="378.5" r="3.47"/><circle cx="591.5" cy="450.5" r="3.47"/><circle cx="635.5" cy="480.5" r="3.47"/><circle cx="679.5" cy="511.5" r="3.47"/></g>
<g fill="#00f"><path d="M458 507h1L462.45 513.9L462.2 514.2H454.8L454.55 513.9Z"/><path d="M502 507h1L506.45 513.9L506.2 514.2H498.8L498.55 513.9Z"/><path d="M546 322h1L550.45 328.9L550.2 329.2H542.8L542.55 328.9Z"/><path d="M591 196h1L595.45 202.9L595.2 203.2H587.8L587.55 202.9Z"/><path d="M635 129h1L639.45 135.9L639.2 136.2H631.8L631.55 135.9Z"/><path d="M679 216h1L683.45 222.9L683.2 223.2H675.8L675.55 222.9Z"/></g>
</g>
<g stroke="#000" stroke-width="1.11" fill="none">
<rect x="458.5" y="48.5" width="221" height="462"/>
<line x1="458.5" y1="510.5" x2="458.5" y2="515.36"/><line x1="546.5" y1="510.5" x2="546.5" y2="515.36"/><line x1="635.5" y1="510.5" x2="635.5" y2="515.36"/>
<line x1="679.5" y1="510.5" x2="684.36" y2="510.5"/>
</g>
<g stroke="#000" stroke-width="0.83" fill="none">
<line x1="458.5" y1="79.5" x2="455.72" y2="79.5"/><line x1="458.5" y1="152.5" x2="455.72" y2="152.5"/><line x1="458.5" y1="225.5" x2="455.72" y2="225.5"/><line x1="458.5" y1="298.5" x2="455.72" y2="298.5"/><line x1="458.5" y1="370.5" x2="455.72" y2="370.5"/><line x1="458.5" y1="443.5" x2="455.72" y2="443.5"/>
<line x1="679.5" y1="68.5" x2="682.28" y2="68.5"/><line x1="679.5" y1="105.5" x2="682.28" y2="105.5"/><line x1="679.5" y1="145.5" x2="682.28" y2="145.5"/><line x1="679.5" y1="189.5" x2="682.28" y2="189.5"/><line x1="679.5" y1="238.5" x2="682.28" y2="238.5"/><line x1="679.5" y1="292.5" x2="682.28" y2="292.5"/><line x1="679.5" y1="354.5" x2="682.28" y2="354.5"/><line x1="679.5" y1="426.5" x2="682.28" y2="426.5"/>
</g>
<rect x="571.5" y="56.5" width="100.00" height="58.00" rx="3.33" fill="#fff" fill-opacity="0.8" stroke="#ccc" stroke-opacity="0.8" stroke-width="1.1"/>
<line x1="577.9" y1="71.4" x2="611.3" y2="71.4" stroke="#000" stroke-width="0.69" stroke-linecap="square"/>
<circle cx="594.5" cy="71.5" r="3.47" fill="#000" stroke="#000" stroke-width="1.39"/>
<g fill="#00f"><path d="M594 95h1L598.45 101.9L598.2 102.2H590.8L590.55 101.9Z"/></g>
<g opacity="0.999">
<text x="132.78" y="24.85" font-size="14.98" textLength="54.24" lengthAdjust="spacingAndGlyphs">finished</text>
<text x="41.34" y="56.00" font-size="22.91" textLength="33.00" lengthAdjust="spacingAndGlyphs">1.2</text>
<text x="41.30" y="129.78" font-size="22.60" textLength="33.80" lengthAdjust="spacingAndGlyphs">1.0</text>
<text x="41.19" y="202.78" font-size="22.60" textLength="34.02" lengthAdjust="spacingAndGlyphs">0.8</text>
<text x="41.19" y="276.78" font-size="22.60" textLength="34.03" lengthAdjust="spacingAndGlyphs">0.6</text>
<text x="41.20" y="349.78" font-size="22.60" textLength="33.65" lengthAdjust="spacingAndGlyphs">0.4</text>
<text x="41.22" y="423.78" font-size="22.60" textLength="33.13" lengthAdjust="spacingAndGlyphs">0.2</text>
<text x="40.20" y="496.78" font-size="22.60" textLength="33.91" lengthAdjust="spacingAndGlyphs">0.0</text>
<text x="71.92" y="535.78" font-size="22.60" textLength="27.18" lengthAdjust="spacingAndGlyphs">20</text>
<text x="183.61" y="535.78" font-size="22.60" textLength="26.11" lengthAdjust="spacingAndGlyphs">30</text>
<text x="293.45" y="535.78" font-size="22.60" textLength="26.48" lengthAdjust="spacingAndGlyphs">40</text>
<text x="86.28" y="43.86" font-size="14.12" textLength="24.57" lengthAdjust="spacingAndGlyphs">1e6</text>
<text x="158.38" y="560.78" font-size="22.88" textLength="75.62" lengthAdjust="spacingAndGlyphs">2Theta</text>
<text transform="translate(32.00,285.57) rotate(-90)" font-size="23.26" textLength="7.75" lengthAdjust="spacingAndGlyphs">I</text>
<text x="246.02" y="258.00" font-size="18.90" textLength="5.96" lengthAdjust="spacingAndGlyphs">I</text>
<text x="246.69" y="283.81" font-size="19.06" textLength="44.62" lengthAdjust="spacingAndGlyphs">initial</text>
<text x="246.70" y="310.85" font-size="19.11" textLength="16.45" lengthAdjust="spacingAndGlyphs">fit</text>
<text x="353.21" y="85.86" font-size="14.12" textLength="55.56" lengthAdjust="spacingAndGlyphs">7.77337</text>
<text x="411.76" y="86.33" font-size="14.50" textLength="10.48" lengthAdjust="spacingAndGlyphs">×</text>
<text x="426.93" y="85.86" font-size="14.12" textLength="15.62" lengthAdjust="spacingAndGlyphs">10</text>
<text x="443.68" y="80.89" font-size="11.30" textLength="4.69" lengthAdjust="spacingAndGlyphs">3</text>
<text x="353.21" y="158.86" font-size="14.12" textLength="55.56" lengthAdjust="spacingAndGlyphs">7.77337</text>
<text x="411.76" y="159.33" font-size="14.50" textLength="10.48" lengthAdjust="spacingAndGlyphs">×</text>
<text x="426.93" y="158.86" font-size="14.12" textLength="15.62" lengthAdjust="spacingAndGlyphs">10</text>
<text x="443.68" y="153.89" font-size="11.30" textLength="4.69" lengthAdjust="spacingAndGlyphs">3</text>
<text x="353.21" y="231.86" font-size="14.12" textLength="55.56" lengthAdjust="spacingAndGlyphs">7.77337</text>
<text x="411.76" y="232.33" font-size="14.50" textLength="10.48" lengthAdjust="spacingAndGlyphs">×</text>
<text x="426.93" y="231.86" font-size="14.12" textLength="15.62" lengthAdjust="spacingAndGlyphs">10</text>
<text x="443.68" y="226.89" font-size="11.30" textLength="4.69" lengthAdjust="spacingAndGlyphs">3</text>
<text x="353.21" y="303.86" font-size="14.12" textLength="55.56" lengthAdjust="spacingAndGlyphs">7.77337</text>
<text x="411.76" y="304.33" font-size="14.50" textLength="10.48" lengthAdjust="spacingAndGlyphs">×</text>
<text x="426.93" y="303.86" font-size="14.12" textLength="15.62" lengthAdjust="spacingAndGlyphs">10</text>
<text x="443.68" y="298.89" font-size="11.30" textLength="4.69" lengthAdjust="spacingAndGlyphs">3</text>
<text x="353.21" y="376.86" font-size="14.12" textLength="55.56" lengthAdjust="spacingAndGlyphs">7.77337</text>
<text x="411.76" y="377.33" font-size="14.50" textLength="10.48" lengthAdjust="spacingAndGlyphs">×</text>
<text x="426.93" y="376.86" font-size="14.12" textLength="15.62" lengthAdjust="spacingAndGlyphs">10</text>
<text x="443.68" y="371.89" font-size="11.30" textLength="4.69" lengthAdjust="spacingAndGlyphs">3</text>
<text x="353.21" y="449.86" font-size="14.12" textLength="55.56" lengthAdjust="spacingAndGlyphs">7.77337</text>
<text x="411.76" y="450.33" font-size="14.50" textLength="10.48" lengthAdjust="spacingAndGlyphs">×</text>
<text x="426.93" y="449.86" font-size="14.12" textLength="15.62" lengthAdjust="spacingAndGlyphs">10</text>
<text x="443.68" y="444.89" font-size="11.30" textLength="4.69" lengthAdjust="spacingAndGlyphs">3</text>
<text x="688.22" y="73.86" font-size="14.12" textLength="21.45" lengthAdjust="spacingAndGlyphs">2.6</text>
<text x="712.76" y="74.33" font-size="14.50" textLength="10.48" lengthAdjust="spacingAndGlyphs">×</text>
<text x="727.93" y="73.86" font-size="14.12" textLength="15.62" lengthAdjust="spacingAndGlyphs">10</text>
<text x="744.39" y="68.99" font-size="10.50" textLength="7.21" lengthAdjust="spacingAndGlyphs">−</text>
<text x="753.54" y="68.89" font-size="11.30" textLength="5.93" lengthAdjust="spacingAndGlyphs">8</text>
<text x="688.23" y="111.00" font-size="14.32" textLength="21.21" lengthAdjust="spacingAndGlyphs">2.4</text>
<text x="712.76" y="111.33" font-size="14.50" textLength="10.48" lengthAdjust="spacingAndGlyphs">×</text>
<text x="727.93" y="110.86" font-size="14.12" textLength="15.62" lengthAdjust="spacingAndGlyphs">10</text>
<text x="744.39" y="105.99" font-size="10.50" textLength="7.21" lengthAdjust="spacingAndGlyphs">−</text>
<text x="753.54" y="105.89" font-size="11.30" textLength="5.93" lengthAdjust="spacingAndGlyphs">8</text>
<text x="688.26" y="152.00" font-size="14.32" textLength="20.48" lengthAdjust="spacingAndGlyphs">2.2</text>
<text x="712.76" y="152.33" font-size="14.50" textLength="10.48" lengthAdjust="spacingAndGlyphs">×</text>
<text x="726.85" y="151.86" font-size="14.12" textLength="16.73" lengthAdjust="spacingAndGlyphs">10</text>
<text x="744.39" y="146.99" font-size="10.50" textLength="7.21" lengthAdjust="spacingAndGlyphs">−</text>
<text x="752.54" y="146.89" font-size="11.30" textLength="5.93" lengthAdjust="spacingAndGlyphs">8</text>
<text x="688.23" y="196.00" font-size="14.32" textLength="8.55" lengthAdjust="spacingAndGlyphs">2</text>
<text x="699.76" y="196.33" font-size="14.50" textLength="10.48" lengthAdjust="spacingAndGlyphs">×</text>
<text x="713.85" y="195.86" font-size="14.12" textLength="16.73" lengthAdjust="spacingAndGlyphs">10</text>
<text x="731.39" y="190.99" font-size="10.50" textLength="7.21" lengthAdjust="spacingAndGlyphs">−</text>
<text x="739.54" y="190.89" font-size="11.30" textLength="5.93" lengthAdjust="spacingAndGlyphs">8</text>
<text x="688.92" y="244.86" font-size="14.12" textLength="19.69" lengthAdjust="spacingAndGlyphs">1.8</text>
<text x="712.76" y="245.33" font-size="14.50" textLength="10.48" lengthAdjust="spacingAndGlyphs">×</text>
<text x="726.85" y="244.86" font-size="14.12" textLength="16.73" lengthAdjust="spacingAndGlyphs">10</text>
<text x="744.39" y="239.99" font-size="10.50" textLength="7.21" lengthAdjust="spacingAndGlyphs">−</text>
<text x="752.54" y="239.89" font-size="11.30" textLength="5.93" lengthAdjust="spacingAndGlyphs">8</text>
<text x="688.86" y="298.86" font-size="14.12" textLength="20.80" lengthAdjust="spacingAndGlyphs">1.6</text>
<text x="712.76" y="299.33" font-size="14.50" textLength="10.48" lengthAdjust="spacingAndGlyphs">×</text>
<text x="727.93" y="298.86" font-size="14.12" textLength="15.62" lengthAdjust="spacingAndGlyphs">10</text>
<text x="744.39" y="293.99" font-size="10.50" textLength="7.21" lengthAdjust="spacingAndGlyphs">−</text>
<text x="753.54" y="293.89" font-size="11.30" textLength="5.93" lengthAdjust="spacingAndGlyphs">8</text>
<text x="688.87" y="361.00" font-size="14.54" textLength="20.56" lengthAdjust="spacingAndGlyphs">1.4</text>
<text x="712.76" y="361.33" font-size="14.50" textLength="10.48" lengthAdjust="spacingAndGlyphs">×</text>
<text x="727.93" y="360.86" font-size="14.12" textLength="15.62" lengthAdjust="spacingAndGlyphs">10</text>
<text x="744.39" y="355.99" font-size="10.50" textLength="7.21" lengthAdjust="spacingAndGlyphs">−</text>
<text x="753.54" y="355.89" font-size="11.30" textLength="5.93" lengthAdjust="spacingAndGlyphs">8</text>
<text x="688.91" y="433.00" font-size="14.32" textLength="19.80" lengthAdjust="spacingAndGlyphs">1.2</text>
<text x="712.76" y="433.33" font-size="14.50" textLength="10.48" lengthAdjust="spacingAndGlyphs">×</text>
<text x="726.85" y="432.86" font-size="14.12" textLength="16.73" lengthAdjust="spacingAndGlyphs">10</text>
<text x="744.39" y="427.99" font-size="10.50" textLength="7.21" lengthAdjust="spacingAndGlyphs">−</text>
<text x="752.54" y="427.89" font-size="11.30" textLength="5.93" lengthAdjust="spacingAndGlyphs">8</text>
<text x="690.93" y="516.86" font-size="14.12" textLength="15.62" lengthAdjust="spacingAndGlyphs">10</text>
<text x="707.39" y="511.99" font-size="10.50" textLength="7.21" lengthAdjust="spacingAndGlyphs">−</text>
<text x="715.54" y="511.89" font-size="11.30" textLength="5.93" lengthAdjust="spacingAndGlyphs">8</text>
<text x="451.22" y="535.78" font-size="22.60" textLength="13.96" lengthAdjust="spacingAndGlyphs">0</text>
<text x="539.79" y="536.00" font-size="22.91" textLength="13.43" lengthAdjust="spacingAndGlyphs">2</text>
<text x="628.45" y="536.00" font-size="23.26" textLength="13.24" lengthAdjust="spacingAndGlyphs">4</text>
<text x="522.24" y="560.79" font-size="21.79" textLength="93.46" lengthAdjust="spacingAndGlyphs">iteration</text>
<text transform="translate(342.79,308.08) rotate(-90)" font-size="21.90" textLength="53.50" lengthAdjust="spacingAndGlyphs">error</text>
<text transform="translate(779.79,304.30) rotate(-90)" font-size="21.79" textLength="48.26" lengthAdjust="spacingAndGlyphs">xdiff</text>
<text x="625.21" y="76.82" font-size="18.25" textLength="39.09" lengthAdjust="spacingAndGlyphs">error</text>
<text x="624.78" y="103.81" font-size="19.06" textLength="35.19" lengthAdjust="spacingAndGlyphs">xdiff</text>
</g>
</svg></body></html>
